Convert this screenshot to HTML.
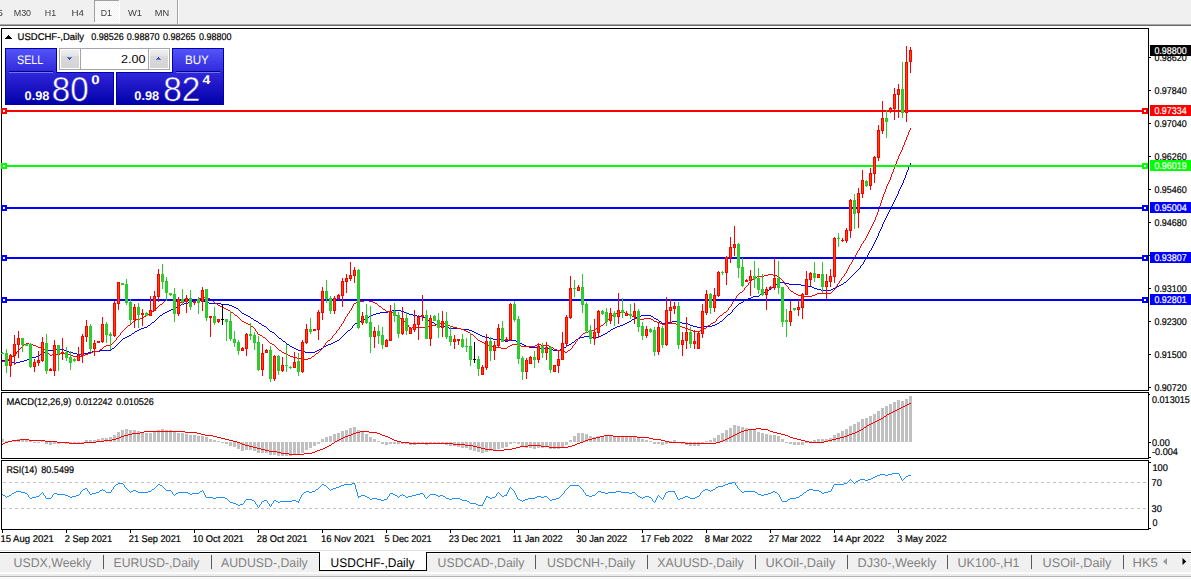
<!DOCTYPE html>
<html><head><meta charset="utf-8"><title>USDCHF-,Daily</title>
<style>html,body{margin:0;padding:0;background:#fff;overflow:hidden}svg{display:block}text{font-family:"Liberation Sans", sans-serif;white-space:pre}</style></head>
<body>
<svg width="1191" height="579" viewBox="0 0 1191 579" shape-rendering="crispEdges" text-rendering="geometricPrecision">
<rect x="0" y="0" width="1191" height="579" fill="#fff"/>
<rect x="0" y="0" width="1191" height="24" fill="#f0f0f0"/>
<rect x="0" y="24" width="1191" height="1" fill="#a8a8a8"/>
<rect x="0" y="25" width="1191" height="1" fill="#696969"/>
<defs><pattern id="chk" width="2" height="2" patternUnits="userSpaceOnUse"><rect width="2" height="2" fill="#fff"/><rect width="1" height="1" fill="#f0f0f0"/><rect x="1" y="1" width="1" height="1" fill="#f0f0f0"/></pattern><linearGradient id="gb" gradientUnits="userSpaceOnUse" x1="0" y1="48" x2="0" y2="105"><stop offset="0" stop-color="#5656fa"/><stop offset="0.42" stop-color="#3029dc"/><stop offset="0.63" stop-color="#2018c8"/><stop offset="1" stop-color="#0000a8"/></linearGradient><linearGradient id="gbu" gradientUnits="userSpaceOnUse" x1="0" y1="48" x2="0" y2="105"><stop offset="0" stop-color="#5656fa"/><stop offset="0.42" stop-color="#3029dc"/><stop offset="0.63" stop-color="#2018c8"/><stop offset="1" stop-color="#0000a8"/></linearGradient><linearGradient id="gs1" x1="0" y1="0" x2="0" y2="1"><stop offset="0" stop-color="#efefef"/><stop offset="1" stop-color="#e4e4e4"/></linearGradient><linearGradient id="gs2" x1="0" y1="0" x2="0" y2="1"><stop offset="0" stop-color="#dadada"/><stop offset="1" stop-color="#d4d4d4"/></linearGradient><linearGradient id="gs" x1="0" y1="0" x2="0" y2="1"><stop offset="0" stop-color="#ececec"/><stop offset="0.5" stop-color="#dcdcdc"/><stop offset="0.5" stop-color="#d2d2d2"/><stop offset="1" stop-color="#cfcfcf"/></linearGradient></defs>
<rect x="94" y="0" width="25" height="22" fill="url(#chk)"/>
<rect x="94" y="0" width="25" height="1" fill="#a0a0a0"/>
<rect x="94" y="0" width="1" height="22" fill="#a0a0a0"/>
<rect x="119" y="0" width="1" height="23" fill="#fff"/>
<rect x="94" y="22" width="26" height="1" fill="#fff"/>
<rect x="177" y="0" width="1" height="24" fill="#a0a0a0"/>
<rect x="178" y="0" width="1" height="24" fill="#fff"/>
<rect x="1" y="28" width="1148" height="1" fill="#000"/>
<rect x="1" y="390" width="1148" height="1" fill="#000"/>
<rect x="1" y="28" width="1" height="363" fill="#000"/>
<rect x="1148" y="28" width="1" height="363" fill="#000"/>
<rect x="1" y="392" width="1148" height="1" fill="#000"/>
<rect x="1" y="458" width="1148" height="1" fill="#000"/>
<rect x="1" y="392" width="1" height="67" fill="#000"/>
<rect x="1148" y="392" width="1" height="67" fill="#000"/>
<rect x="1" y="460" width="1148" height="1" fill="#000"/>
<rect x="1" y="529" width="1148" height="1" fill="#000"/>
<rect x="1" y="460" width="1" height="70" fill="#000"/>
<rect x="1148" y="460" width="1" height="70" fill="#000"/>
<rect x="1149" y="57" width="2" height="1" fill="#000"/>
<text x="1154.4" y="61" font-size="9.8" fill="#000" textLength="32.4" lengthAdjust="spacingAndGlyphs" stroke="#000" stroke-width="0.2">0.98620</text>
<rect x="1149" y="90" width="2" height="1" fill="#000"/>
<text x="1154.4" y="94" font-size="9.8" fill="#000" textLength="32.4" lengthAdjust="spacingAndGlyphs" stroke="#000" stroke-width="0.2">0.97840</text>
<rect x="1149" y="123" width="2" height="1" fill="#000"/>
<text x="1154.4" y="127" font-size="9.8" fill="#000" textLength="32.4" lengthAdjust="spacingAndGlyphs" stroke="#000" stroke-width="0.2">0.97040</text>
<rect x="1149" y="156" width="2" height="1" fill="#000"/>
<text x="1154.4" y="160" font-size="9.8" fill="#000" textLength="32.4" lengthAdjust="spacingAndGlyphs" stroke="#000" stroke-width="0.2">0.96260</text>
<rect x="1149" y="189" width="2" height="1" fill="#000"/>
<text x="1154.4" y="193" font-size="9.8" fill="#000" textLength="32.4" lengthAdjust="spacingAndGlyphs" stroke="#000" stroke-width="0.2">0.95460</text>
<rect x="1149" y="222" width="2" height="1" fill="#000"/>
<text x="1154.4" y="226" font-size="9.8" fill="#000" textLength="32.4" lengthAdjust="spacingAndGlyphs" stroke="#000" stroke-width="0.2">0.94680</text>
<rect x="1149" y="255" width="2" height="1" fill="#000"/>
<text x="1154.4" y="259" font-size="9.8" fill="#000" textLength="32.4" lengthAdjust="spacingAndGlyphs" stroke="#000" stroke-width="0.2">0.93900</text>
<rect x="1149" y="288" width="2" height="1" fill="#000"/>
<text x="1154.4" y="292" font-size="9.8" fill="#000" textLength="32.4" lengthAdjust="spacingAndGlyphs" stroke="#000" stroke-width="0.2">0.93100</text>
<rect x="1149" y="321" width="2" height="1" fill="#000"/>
<text x="1154.4" y="325" font-size="9.8" fill="#000" textLength="32.4" lengthAdjust="spacingAndGlyphs" stroke="#000" stroke-width="0.2">0.92300</text>
<rect x="1149" y="354" width="2" height="1" fill="#000"/>
<text x="1154.4" y="358" font-size="9.8" fill="#000" textLength="32.4" lengthAdjust="spacingAndGlyphs" stroke="#000" stroke-width="0.2">0.91500</text>
<rect x="1149" y="387" width="2" height="1" fill="#000"/>
<text x="1154.4" y="391" font-size="9.8" fill="#000" textLength="32.4" lengthAdjust="spacingAndGlyphs" stroke="#000" stroke-width="0.2">0.90720</text>
<rect x="1150" y="45" width="41" height="11" fill="#000"/>
<text x="1154.4" y="54" font-size="9.8" fill="#fff" textLength="32.2" lengthAdjust="spacingAndGlyphs" stroke="#fff" stroke-width="0.2">0.98800</text>
<text x="6.4" y="405" font-size="9.8" fill="#000" textLength="65" lengthAdjust="spacingAndGlyphs" stroke="#000" stroke-width="0.2">MACD(12,26,9)</text>
<text x="75.5" y="405" font-size="9.8" fill="#000" textLength="36.9" lengthAdjust="spacingAndGlyphs" stroke="#000" stroke-width="0.2">0.012242</text>
<text x="116.2" y="405" font-size="9.8" fill="#000" textLength="37.6" lengthAdjust="spacingAndGlyphs" stroke="#000" stroke-width="0.2">0.010526</text>
<rect x="1149" y="394" width="1" height="1" fill="#000"/>
<text x="1152" y="403" font-size="9.8" fill="#000" textLength="37.8" lengthAdjust="spacingAndGlyphs" stroke="#000" stroke-width="0.2">0.013015</text>
<rect x="1149" y="442" width="2" height="1" fill="#000"/>
<text x="1152" y="446" font-size="9.8" fill="#000" textLength="17.8" lengthAdjust="spacingAndGlyphs" stroke="#000" stroke-width="0.2">0.00</text>
<rect x="1149" y="457" width="2" height="1" fill="#000"/>
<text x="1152" y="455" font-size="9.8" fill="#000" textLength="25.9" lengthAdjust="spacingAndGlyphs" stroke="#000" stroke-width="0.2">-0.004</text>
<text x="6.4" y="473" font-size="9.8" fill="#000" textLength="30.8" lengthAdjust="spacingAndGlyphs" stroke="#000" stroke-width="0.2">RSI(14)</text>
<text x="41.3" y="473" font-size="9.8" fill="#000" textLength="32.7" lengthAdjust="spacingAndGlyphs" stroke="#000" stroke-width="0.2">80.5499</text>
<path d="M3 482.5H1148" stroke="#c0c0c0" stroke-width="1" stroke-dasharray="3 3" fill="none"/>
<path d="M3 508.5H1148" stroke="#c0c0c0" stroke-width="1" stroke-dasharray="3 3" fill="none"/>
<rect x="1149" y="462" width="2" height="1" fill="#000"/>
<rect x="1149" y="528" width="2" height="1" fill="#000"/>
<text x="1152.4" y="471" font-size="9.8" fill="#000" textLength="15.5" lengthAdjust="spacingAndGlyphs" stroke="#000" stroke-width="0.2">100</text>
<text x="1151.6" y="486" font-size="9.8" fill="#000" textLength="10.3" lengthAdjust="spacingAndGlyphs" stroke="#000" stroke-width="0.2">70</text>
<text x="1151.6" y="512" font-size="9.8" fill="#000" textLength="10.3" lengthAdjust="spacingAndGlyphs" stroke="#000" stroke-width="0.2">30</text>
<text x="1152.4" y="526" font-size="9.8" fill="#000" textLength="5" lengthAdjust="spacingAndGlyphs" stroke="#000" stroke-width="0.2">0</text>
<rect x="2" y="530" width="1" height="3" fill="#000"/>
<text x="0.4" y="542" font-size="9.8" fill="#000" textLength="53.45" lengthAdjust="spacingAndGlyphs" stroke="#000" stroke-width="0.2">15 Aug 2021</text>
<rect x="66" y="530" width="1" height="3" fill="#000"/>
<text x="64.75" y="542" font-size="9.8" fill="#000" textLength="47.4" lengthAdjust="spacingAndGlyphs" stroke="#000" stroke-width="0.2">2 Sep 2021</text>
<rect x="130" y="530" width="1" height="3" fill="#000"/>
<text x="128.85" y="542" font-size="9.8" fill="#000" textLength="52.1" lengthAdjust="spacingAndGlyphs" stroke="#000" stroke-width="0.2">21 Sep 2021</text>
<rect x="194" y="530" width="1" height="3" fill="#000"/>
<text x="192.8" y="542" font-size="9.8" fill="#000" textLength="51.05" lengthAdjust="spacingAndGlyphs" stroke="#000" stroke-width="0.2">10 Oct 2021</text>
<rect x="258" y="530" width="1" height="3" fill="#000"/>
<text x="256.75" y="542" font-size="9.8" fill="#000" textLength="50.7" lengthAdjust="spacingAndGlyphs" stroke="#000" stroke-width="0.2">28 Oct 2021</text>
<rect x="322" y="530" width="1" height="3" fill="#000"/>
<text x="320.9" y="542" font-size="9.8" fill="#000" textLength="53.95" lengthAdjust="spacingAndGlyphs" stroke="#000" stroke-width="0.2">16 Nov 2021</text>
<rect x="386" y="530" width="1" height="3" fill="#000"/>
<text x="384.55" y="542" font-size="9.8" fill="#000" textLength="47.1" lengthAdjust="spacingAndGlyphs" stroke="#000" stroke-width="0.2">5 Dec 2021</text>
<rect x="450" y="530" width="1" height="3" fill="#000"/>
<text x="448.75" y="542" font-size="9.8" fill="#000" textLength="52.3" lengthAdjust="spacingAndGlyphs" stroke="#000" stroke-width="0.2">23 Dec 2021</text>
<rect x="514" y="530" width="1" height="3" fill="#000"/>
<text x="512.6" y="542" font-size="9.8" fill="#000" textLength="50.05" lengthAdjust="spacingAndGlyphs" stroke="#000" stroke-width="0.2">11 Jan 2022</text>
<rect x="578" y="530" width="1" height="3" fill="#000"/>
<text x="576.25" y="542" font-size="9.8" fill="#000" textLength="51.0" lengthAdjust="spacingAndGlyphs" stroke="#000" stroke-width="0.2">30 Jan 2022</text>
<rect x="642" y="530" width="1" height="3" fill="#000"/>
<text x="640.8" y="542" font-size="9.8" fill="#000" textLength="52.25" lengthAdjust="spacingAndGlyphs" stroke="#000" stroke-width="0.2">17 Feb 2022</text>
<rect x="706" y="530" width="1" height="3" fill="#000"/>
<text x="704.75" y="542" font-size="9.8" fill="#000" textLength="47.4" lengthAdjust="spacingAndGlyphs" stroke="#000" stroke-width="0.2">8 Mar 2022</text>
<rect x="770" y="530" width="1" height="3" fill="#000"/>
<text x="768.75" y="542" font-size="9.8" fill="#000" textLength="52.2" lengthAdjust="spacingAndGlyphs" stroke="#000" stroke-width="0.2">27 Mar 2022</text>
<rect x="834" y="530" width="1" height="3" fill="#000"/>
<text x="832.7" y="542" font-size="9.8" fill="#000" textLength="51.65" lengthAdjust="spacingAndGlyphs" stroke="#000" stroke-width="0.2">14 Apr 2022</text>
<rect x="898" y="530" width="1" height="3" fill="#000"/>
<text x="896.95" y="542" font-size="9.8" fill="#000" textLength="49.9" lengthAdjust="spacingAndGlyphs" stroke="#000" stroke-width="0.2">3 May 2022</text>
<path d="M910 163h1v2h-1zM909 165h1v2h-1zM908 167h1v3h-1zM907 170h1v2h-1zM906 172h1v3h-1zM905 175h1v3h-1zM904 178h1v2h-1zM903 180h1v3h-1zM902 183h1v2h-1zM901 185h1v2h-1zM900 187h1v2h-1zM899 189h1v2h-1zM898 191h1v3h-1zM897 194h1v2h-1zM896 196h1v2h-1zM895 198h1v2h-1zM894 200h1v2h-1zM893 202h1v2h-1zM892 204h1v2h-1zM891 206h1v2h-1zM890 208h1v2h-1zM889 210h1v2h-1zM888 212h1v2h-1zM887 214h1v2h-1zM886 216h1v2h-1zM885 218h1v2h-1zM884 220h1v2h-1zM883 222h1v2h-1zM882 224h1v3h-1zM881 227h1v2h-1zM880 229h1v2h-1zM879 231h1v2h-1zM878 233h1v3h-1zM877 236h1v2h-1zM876 238h1v2h-1zM875 240h1v2h-1zM874 242h1v2h-1zM873 244h1v2h-1zM872 246h1v2h-1zM871 248h1v2h-1zM870 250h1v1h-1zM869 251h1v2h-1zM868 253h1v2h-1zM867 255h1v2h-1zM866 257h1v1h-1zM865 258h1v2h-1zM864 260h1v2h-1zM863 262h1v2h-1zM862 264h1v1h-1zM861 265h1v1h-1zM860 266h1v2h-1zM859 268h1v1h-1zM858 269h1v1h-1zM857 270h1v1h-1zM856 271h1v1h-1zM855 272h1v1h-1zM854 273h1v1h-1zM853 274h1v1h-1zM852 275h1v1h-1zM851 276h1v1h-1zM850 277h1v1h-1zM849 278h1v1h-1zM848 279h1v1h-1zM847 280h1v1h-1zM846 281h1v1h-1zM780 282h5v1h-5zM844 282h2v1h-2zM778 283h2v1h-2zM785 283h4v1h-4zM843 283h1v1h-1zM776 284h2v1h-2zM789 284h12v1h-12zM841 284h2v1h-2zM775 285h1v1h-1zM801 285h4v1h-4zM839 285h2v1h-2zM774 286h1v1h-1zM805 286h7v1h-7zM837 286h2v1h-2zM772 287h2v1h-2zM812 287h2v1h-2zM835 287h2v1h-2zM771 288h1v1h-1zM814 288h3v1h-3zM833 288h2v1h-2zM769 289h2v1h-2zM817 289h4v1h-4zM831 289h2v1h-2zM767 290h2v1h-2zM821 290h10v1h-10zM765 291h2v1h-2zM763 292h2v1h-2zM762 293h1v1h-1zM760 294h2v1h-2zM759 295h1v1h-1zM753 296h6v1h-6zM751 297h2v1h-2zM748 298h3v1h-3zM746 299h2v1h-2zM193 300h8v1h-8zM744 300h2v1h-2zM191 301h2v1h-2zM201 301h4v1h-4zM743 301h1v1h-1zM188 302h3v1h-3zM205 302h4v1h-4zM741 302h2v1h-2zM184 303h4v1h-4zM209 303h12v1h-12zM739 303h2v1h-2zM181 304h3v1h-3zM221 304h8v1h-8zM738 304h1v1h-1zM179 305h2v1h-2zM229 305h3v1h-3zM737 305h1v1h-1zM177 306h2v1h-2zM232 306h2v1h-2zM736 306h1v1h-1zM175 307h2v1h-2zM234 307h2v1h-2zM735 307h1v1h-1zM173 308h2v1h-2zM236 308h2v1h-2zM734 308h1v1h-1zM171 309h2v1h-2zM238 309h1v1h-1zM733 309h1v1h-1zM169 310h2v1h-2zM239 310h1v1h-1zM392 310h9v1h-9zM732 310h1v2h-1zM167 311h2v1h-2zM240 311h1v1h-1zM388 311h4v1h-4zM401 311h3v1h-3zM165 312h2v1h-2zM241 312h1v1h-1zM380 312h8v1h-8zM404 312h2v1h-2zM731 312h1v1h-1zM163 313h2v1h-2zM242 313h2v1h-2zM376 313h4v1h-4zM406 313h3v1h-3zM730 313h1v1h-1zM162 314h1v1h-1zM244 314h2v1h-2zM373 314h3v1h-3zM409 314h4v1h-4zM728 314h2v1h-2zM160 315h2v1h-2zM246 315h2v1h-2zM371 315h2v1h-2zM413 315h4v1h-4zM641 315h10v1h-10zM727 315h1v1h-1zM159 316h1v1h-1zM248 316h2v1h-2zM369 316h2v1h-2zM417 316h6v1h-6zM639 316h2v1h-2zM651 316h2v1h-2zM726 316h1v1h-1zM158 317h1v1h-1zM250 317h1v1h-1zM367 317h2v1h-2zM423 317h2v1h-2zM636 317h3v1h-3zM653 317h1v1h-1zM725 317h1v1h-1zM157 318h1v1h-1zM251 318h2v1h-2zM365 318h2v1h-2zM425 318h1v1h-1zM634 318h2v1h-2zM654 318h2v1h-2zM724 318h1v1h-1zM156 319h1v1h-1zM253 319h1v1h-1zM363 319h2v1h-2zM426 319h2v1h-2zM632 319h2v1h-2zM656 319h2v1h-2zM723 319h1v1h-1zM155 320h1v1h-1zM254 320h2v1h-2zM361 320h2v1h-2zM428 320h2v1h-2zM631 320h1v1h-1zM658 320h1v1h-1zM722 320h1v1h-1zM154 321h1v1h-1zM256 321h2v1h-2zM359 321h2v1h-2zM430 321h2v1h-2zM629 321h2v1h-2zM659 321h2v1h-2zM672 321h8v1h-8zM720 321h2v1h-2zM152 322h2v1h-2zM258 322h1v1h-1zM357 322h2v1h-2zM432 322h2v1h-2zM627 322h2v1h-2zM661 322h1v1h-1zM668 322h4v1h-4zM680 322h2v1h-2zM719 322h1v1h-1zM151 323h1v1h-1zM259 323h2v1h-2zM355 323h2v1h-2zM434 323h1v1h-1zM625 323h2v1h-2zM662 323h6v1h-6zM682 323h6v1h-6zM717 323h2v1h-2zM150 324h1v1h-1zM261 324h1v1h-1zM354 324h1v1h-1zM435 324h2v1h-2zM623 324h2v1h-2zM688 324h2v1h-2zM715 324h2v1h-2zM148 325h2v1h-2zM262 325h2v1h-2zM353 325h1v1h-1zM437 325h1v1h-1zM620 325h3v1h-3zM690 325h3v1h-3zM712 325h3v1h-3zM147 326h1v1h-1zM264 326h2v1h-2zM352 326h1v2h-1zM438 326h7v1h-7zM617 326h3v1h-3zM693 326h4v1h-4zM704 326h8v1h-8zM144 327h3v1h-3zM266 327h1v1h-1zM445 327h4v1h-4zM615 327h2v1h-2zM697 327h7v1h-7zM141 328h3v1h-3zM267 328h1v1h-1zM351 328h1v1h-1zM449 328h12v1h-12zM613 328h2v1h-2zM139 329h2v1h-2zM268 329h1v1h-1zM350 329h1v1h-1zM461 329h8v1h-8zM611 329h2v1h-2zM137 330h2v1h-2zM269 330h1v1h-1zM348 330h2v1h-2zM469 330h3v1h-3zM610 330h1v1h-1zM135 331h2v1h-2zM270 331h2v1h-2zM347 331h1v1h-1zM472 331h2v1h-2zM608 331h2v1h-2zM134 332h1v1h-1zM272 332h2v1h-2zM346 332h1v1h-1zM474 332h2v1h-2zM607 332h1v1h-1zM132 333h2v1h-2zM274 333h1v1h-1zM345 333h1v1h-1zM476 333h2v1h-2zM605 333h2v1h-2zM131 334h1v1h-1zM275 334h1v1h-1zM344 334h1v1h-1zM478 334h2v1h-2zM603 334h2v1h-2zM129 335h2v1h-2zM276 335h1v1h-1zM343 335h1v1h-1zM480 335h2v1h-2zM601 335h2v1h-2zM127 336h2v1h-2zM277 336h1v1h-1zM342 336h1v1h-1zM482 336h3v1h-3zM584 336h8v1h-8zM599 336h2v1h-2zM125 337h2v1h-2zM278 337h1v1h-1zM341 337h1v1h-1zM485 337h4v1h-4zM580 337h4v1h-4zM592 337h2v1h-2zM596 337h3v1h-3zM123 338h2v1h-2zM279 338h2v1h-2zM340 338h1v1h-1zM489 338h4v1h-4zM578 338h2v1h-2zM594 338h2v1h-2zM122 339h1v1h-1zM281 339h1v1h-1zM339 339h1v1h-1zM493 339h8v1h-8zM576 339h2v1h-2zM121 340h1v1h-1zM282 340h1v1h-1zM337 340h2v1h-2zM501 340h4v1h-4zM508 340h8v1h-8zM575 340h1v1h-1zM120 341h1v1h-1zM283 341h2v1h-2zM335 341h2v1h-2zM505 341h3v1h-3zM516 341h2v1h-2zM574 341h1v1h-1zM119 342h1v1h-1zM285 342h1v1h-1zM333 342h2v1h-2zM518 342h2v1h-2zM572 342h2v1h-2zM118 343h1v1h-1zM286 343h1v1h-1zM331 343h2v1h-2zM520 343h2v1h-2zM571 343h1v1h-1zM117 344h1v1h-1zM287 344h2v1h-2zM328 344h3v1h-3zM522 344h2v1h-2zM569 344h2v1h-2zM116 345h1v1h-1zM289 345h1v1h-1zM326 345h2v1h-2zM524 345h2v1h-2zM567 345h2v1h-2zM115 346h1v1h-1zM290 346h2v1h-2zM324 346h2v1h-2zM526 346h3v1h-3zM566 346h1v1h-1zM114 347h1v1h-1zM292 347h2v1h-2zM323 347h1v1h-1zM529 347h8v1h-8zM564 347h2v1h-2zM112 348h2v1h-2zM294 348h2v1h-2zM321 348h2v1h-2zM537 348h12v1h-12zM563 348h1v1h-1zM56 349h8v1h-8zM111 349h1v1h-1zM296 349h2v1h-2zM319 349h2v1h-2zM549 349h4v1h-4zM560 349h3v1h-3zM48 350h8v1h-8zM64 350h2v1h-2zM100 350h11v1h-11zM298 350h3v1h-3zM317 350h2v1h-2zM553 350h7v1h-7zM45 351h3v1h-3zM66 351h3v1h-3zM92 351h8v1h-8zM301 351h4v1h-4zM315 351h2v1h-2zM43 352h2v1h-2zM69 352h4v1h-4zM88 352h4v1h-4zM305 352h10v1h-10zM42 353h1v1h-1zM73 353h4v1h-4zM84 353h4v1h-4zM40 354h2v1h-2zM77 354h7v1h-7zM39 355h1v1h-1zM36 356h3v1h-3zM32 357h4v1h-4zM29 358h3v1h-3zM27 359h2v1h-2zM2 360h7v1h-7zM24 360h3v1h-3zM9 361h3v1h-3zM20 361h4v1h-4zM12 362h2v1h-2zM16 362h4v1h-4zM14 363h2v1h-2z" fill="#0000ff"/>
<path d="M910 128h1v2h-1zM909 130h1v2h-1zM908 132h1v3h-1zM907 135h1v2h-1zM906 137h1v3h-1zM905 140h1v2h-1zM904 142h1v3h-1zM903 145h1v2h-1zM902 147h1v3h-1zM901 150h1v2h-1zM900 152h1v2h-1zM899 154h1v2h-1zM898 156h1v3h-1zM897 159h1v2h-1zM896 161h1v3h-1zM895 164h1v2h-1zM894 166h1v3h-1zM893 169h1v3h-1zM892 172h1v2h-1zM891 174h1v3h-1zM890 177h1v3h-1zM889 180h1v2h-1zM888 182h1v2h-1zM887 184h1v2h-1zM886 186h1v3h-1zM885 189h1v3h-1zM884 192h1v2h-1zM883 194h1v3h-1zM882 197h1v3h-1zM881 200h1v3h-1zM880 203h1v3h-1zM879 206h1v3h-1zM878 209h1v3h-1zM877 212h1v3h-1zM876 215h1v2h-1zM875 217h1v3h-1zM874 220h1v2h-1zM873 222h1v2h-1zM872 224h1v2h-1zM871 226h1v2h-1zM870 228h1v2h-1zM869 230h1v2h-1zM868 232h1v2h-1zM867 234h1v2h-1zM866 236h1v2h-1zM865 238h1v2h-1zM864 240h1v1h-1zM863 241h1v2h-1zM862 243h1v1h-1zM861 244h1v2h-1zM860 246h1v2h-1zM859 248h1v2h-1zM858 250h1v1h-1zM857 251h1v2h-1zM856 253h1v2h-1zM855 255h1v2h-1zM854 257h1v1h-1zM853 258h1v2h-1zM852 260h1v2h-1zM851 262h1v2h-1zM850 264h1v1h-1zM849 265h1v2h-1zM848 267h1v2h-1zM847 269h1v2h-1zM846 271h1v2h-1zM845 273h1v1h-1zM768 274h5v1h-5zM844 274h1v2h-1zM764 275h4v1h-4zM773 275h4v1h-4zM757 276h7v1h-7zM777 276h2v1h-2zM843 276h1v1h-1zM755 277h2v1h-2zM779 277h1v1h-1zM842 277h1v1h-1zM754 278h1v1h-1zM780 278h1v1h-1zM841 278h1v2h-1zM752 279h2v1h-2zM781 279h1v1h-1zM751 280h1v1h-1zM782 280h1v1h-1zM840 280h1v1h-1zM750 281h1v1h-1zM783 281h1v1h-1zM839 281h1v2h-1zM749 282h1v1h-1zM784 282h1v2h-1zM748 283h1v2h-1zM838 283h1v1h-1zM785 284h1v1h-1zM837 284h1v2h-1zM747 285h1v1h-1zM786 285h1v1h-1zM746 286h1v1h-1zM787 286h1v1h-1zM836 286h1v1h-1zM745 287h1v1h-1zM788 287h1v2h-1zM835 287h1v2h-1zM744 288h1v2h-1zM789 289h1v1h-1zM834 289h1v1h-1zM743 290h1v1h-1zM790 290h1v1h-1zM833 290h1v1h-1zM742 291h1v1h-1zM791 291h2v1h-2zM832 291h1v1h-1zM740 292h2v1h-2zM793 292h1v1h-1zM831 292h1v1h-1zM739 293h1v1h-1zM794 293h2v1h-2zM817 293h14v1h-14zM738 294h1v1h-1zM796 294h2v1h-2zM815 294h2v1h-2zM737 295h1v1h-1zM798 295h3v1h-3zM812 295h3v1h-3zM736 296h1v2h-1zM801 296h11v1h-11zM201 297h7v1h-7zM199 298h2v1h-2zM208 298h2v1h-2zM735 298h1v1h-1zM166 299h6v1h-6zM196 299h3v1h-3zM210 299h1v1h-1zM734 299h1v1h-1zM165 300h1v1h-1zM172 300h2v1h-2zM188 300h8v1h-8zM211 300h2v1h-2zM364 300h5v1h-5zM733 300h1v2h-1zM164 301h1v1h-1zM174 301h3v1h-3zM184 301h4v1h-4zM213 301h1v1h-1zM360 301h4v1h-4zM369 301h4v1h-4zM163 302h1v1h-1zM177 302h7v1h-7zM214 302h1v1h-1zM356 302h4v1h-4zM373 302h2v1h-2zM732 302h1v2h-1zM162 303h1v1h-1zM215 303h2v1h-2zM354 303h2v1h-2zM375 303h2v1h-2zM160 304h2v1h-2zM217 304h1v1h-1zM353 304h1v2h-1zM377 304h1v1h-1zM731 304h1v2h-1zM159 305h1v1h-1zM218 305h2v1h-2zM378 305h1v1h-1zM158 306h1v1h-1zM220 306h2v1h-2zM352 306h1v2h-1zM379 306h2v1h-2zM730 306h1v1h-1zM157 307h1v1h-1zM222 307h2v1h-2zM381 307h1v1h-1zM729 307h1v1h-1zM156 308h1v1h-1zM224 308h2v1h-2zM351 308h1v2h-1zM382 308h1v1h-1zM728 308h1v2h-1zM155 309h1v1h-1zM226 309h2v1h-2zM383 309h2v1h-2zM154 310h1v1h-1zM228 310h2v1h-2zM350 310h1v1h-1zM385 310h1v1h-1zM727 310h1v1h-1zM152 311h2v1h-2zM230 311h1v1h-1zM349 311h1v2h-1zM386 311h3v1h-3zM726 311h1v1h-1zM151 312h1v1h-1zM231 312h2v1h-2zM389 312h4v1h-4zM617 312h8v1h-8zM724 312h2v1h-2zM149 313h2v1h-2zM233 313h1v1h-1zM348 313h1v1h-1zM393 313h2v1h-2zM615 313h2v1h-2zM625 313h3v1h-3zM723 313h1v1h-1zM147 314h2v1h-2zM234 314h1v1h-1zM347 314h1v2h-1zM395 314h1v1h-1zM614 314h1v1h-1zM628 314h2v1h-2zM722 314h1v1h-1zM146 315h1v1h-1zM235 315h2v1h-2zM396 315h1v1h-1zM612 315h2v1h-2zM630 315h2v1h-2zM720 315h2v1h-2zM144 316h2v1h-2zM237 316h1v1h-1zM346 316h1v1h-1zM397 316h1v1h-1zM611 316h1v1h-1zM632 316h2v1h-2zM719 316h1v1h-1zM143 317h1v1h-1zM238 317h1v1h-1zM345 317h1v2h-1zM398 317h1v1h-1zM610 317h1v1h-1zM634 317h2v1h-2zM718 317h1v1h-1zM140 318h3v1h-3zM239 318h1v1h-1zM399 318h2v1h-2zM609 318h1v1h-1zM636 318h2v1h-2zM644 318h7v1h-7zM717 318h1v1h-1zM136 319h4v1h-4zM240 319h1v1h-1zM344 319h1v2h-1zM401 319h1v1h-1zM608 319h1v1h-1zM638 319h6v1h-6zM651 319h2v1h-2zM716 319h1v2h-1zM134 320h2v1h-2zM241 320h1v1h-1zM402 320h1v1h-1zM607 320h1v1h-1zM653 320h1v1h-1zM133 321h1v1h-1zM242 321h2v1h-2zM343 321h1v2h-1zM403 321h2v1h-2zM606 321h1v1h-1zM654 321h3v1h-3zM715 321h1v1h-1zM132 322h1v1h-1zM244 322h2v1h-2zM405 322h1v1h-1zM605 322h1v1h-1zM657 322h3v1h-3zM713 322h2v1h-2zM131 323h1v1h-1zM246 323h2v1h-2zM342 323h1v1h-1zM406 323h1v1h-1zM440 323h5v1h-5zM604 323h1v1h-1zM660 323h2v1h-2zM668 323h8v1h-8zM711 323h2v1h-2zM130 324h1v1h-1zM248 324h2v1h-2zM341 324h1v2h-1zM407 324h1v1h-1zM436 324h4v1h-4zM445 324h3v1h-3zM603 324h1v1h-1zM662 324h6v1h-6zM676 324h2v1h-2zM710 324h1v1h-1zM128 325h2v1h-2zM250 325h1v1h-1zM408 325h1v2h-1zM432 325h4v1h-4zM448 325h2v1h-2zM601 325h2v1h-2zM678 325h2v1h-2zM708 325h2v1h-2zM127 326h1v1h-1zM251 326h2v1h-2zM340 326h1v1h-1zM428 326h4v1h-4zM450 326h3v1h-3zM599 326h2v1h-2zM680 326h2v1h-2zM707 326h1v1h-1zM126 327h1v1h-1zM253 327h1v1h-1zM339 327h1v2h-1zM409 327h1v1h-1zM412 327h16v1h-16zM453 327h4v1h-4zM598 327h1v1h-1zM682 327h3v1h-3zM706 327h1v1h-1zM125 328h1v1h-1zM254 328h1v1h-1zM410 328h2v1h-2zM457 328h4v1h-4zM596 328h2v1h-2zM685 328h3v1h-3zM704 328h2v1h-2zM124 329h1v1h-1zM255 329h1v2h-1zM338 329h1v1h-1zM461 329h3v1h-3zM595 329h1v1h-1zM688 329h2v1h-2zM703 329h1v1h-1zM123 330h1v1h-1zM337 330h1v1h-1zM464 330h2v1h-2zM592 330h3v1h-3zM690 330h3v1h-3zM700 330h3v1h-3zM122 331h1v1h-1zM256 331h1v1h-1zM336 331h1v2h-1zM466 331h2v1h-2zM588 331h4v1h-4zM693 331h7v1h-7zM121 332h1v1h-1zM257 332h1v2h-1zM468 332h2v1h-2zM585 332h3v1h-3zM120 333h1v2h-1zM335 333h1v1h-1zM470 333h1v1h-1zM583 333h2v1h-2zM258 334h2v1h-2zM334 334h1v1h-1zM471 334h2v1h-2zM582 334h1v1h-1zM119 335h1v1h-1zM260 335h2v1h-2zM333 335h1v1h-1zM473 335h1v1h-1zM581 335h1v1h-1zM118 336h1v1h-1zM262 336h1v1h-1zM332 336h1v2h-1zM474 336h1v1h-1zM580 336h1v1h-1zM117 337h1v1h-1zM263 337h2v1h-2zM475 337h1v1h-1zM579 337h1v1h-1zM116 338h1v2h-1zM265 338h1v1h-1zM331 338h1v1h-1zM476 338h1v1h-1zM578 338h1v1h-1zM266 339h1v1h-1zM330 339h1v1h-1zM477 339h1v1h-1zM577 339h1v2h-1zM115 340h1v1h-1zM267 340h1v1h-1zM328 340h2v1h-2zM478 340h2v1h-2zM114 341h1v1h-1zM268 341h1v1h-1zM327 341h1v1h-1zM480 341h2v1h-2zM576 341h1v1h-1zM113 342h1v1h-1zM269 342h1v1h-1zM326 342h1v1h-1zM482 342h2v1h-2zM575 342h1v2h-1zM26 343h3v1h-3zM112 343h1v1h-1zM270 343h2v1h-2zM325 343h1v2h-1zM484 343h2v1h-2zM24 344h2v1h-2zM29 344h4v1h-4zM111 344h1v1h-1zM272 344h2v1h-2zM486 344h2v1h-2zM512 344h5v1h-5zM537 344h4v1h-4zM574 344h1v1h-1zM23 345h1v1h-1zM33 345h3v1h-3zM106 345h5v1h-5zM274 345h1v1h-1zM324 345h1v1h-1zM488 345h2v1h-2zM510 345h2v1h-2zM517 345h4v1h-4zM535 345h2v1h-2zM541 345h8v1h-8zM573 345h1v1h-1zM22 346h1v1h-1zM36 346h2v1h-2zM104 346h2v1h-2zM275 346h1v1h-1zM323 346h1v2h-1zM490 346h3v1h-3zM508 346h2v1h-2zM521 346h14v1h-14zM549 346h2v1h-2zM572 346h1v2h-1zM21 347h1v1h-1zM38 347h3v1h-3zM103 347h1v1h-1zM276 347h1v1h-1zM493 347h8v1h-8zM507 347h1v1h-1zM551 347h2v1h-2zM20 348h1v1h-1zM41 348h2v1h-2zM102 348h1v1h-1zM277 348h1v1h-1zM322 348h1v1h-1zM501 348h6v1h-6zM553 348h1v1h-1zM571 348h1v1h-1zM19 349h1v1h-1zM43 349h2v1h-2zM100 349h2v1h-2zM278 349h1v1h-1zM321 349h1v1h-1zM554 349h3v1h-3zM570 349h1v1h-1zM18 350h1v1h-1zM45 350h1v1h-1zM99 350h1v1h-1zM279 350h2v1h-2zM320 350h1v1h-1zM557 350h4v1h-4zM568 350h2v1h-2zM17 351h1v1h-1zM46 351h1v1h-1zM93 351h6v1h-6zM281 351h1v1h-1zM319 351h1v1h-1zM561 351h4v1h-4zM567 351h1v1h-1zM16 352h1v2h-1zM47 352h1v1h-1zM91 352h2v1h-2zM282 352h2v1h-2zM318 352h1v1h-1zM565 352h2v1h-2zM48 353h1v1h-1zM60 353h8v1h-8zM88 353h3v1h-3zM284 353h2v1h-2zM316 353h2v1h-2zM15 354h1v1h-1zM49 354h1v1h-1zM52 354h8v1h-8zM68 354h2v1h-2zM85 354h3v1h-3zM286 354h2v1h-2zM315 354h1v1h-1zM14 355h1v1h-1zM50 355h2v1h-2zM70 355h3v1h-3zM83 355h2v1h-2zM288 355h2v1h-2zM314 355h1v1h-1zM12 356h2v1h-2zM73 356h4v1h-4zM80 356h3v1h-3zM290 356h3v1h-3zM312 356h2v1h-2zM11 357h1v1h-1zM77 357h3v1h-3zM293 357h4v1h-4zM311 357h1v1h-1zM10 358h1v1h-1zM297 358h4v1h-4zM308 358h3v1h-3zM8 359h2v1h-2zM301 359h7v1h-7zM7 360h1v1h-1zM2 361h5v1h-5z" fill="#ff0000"/>
<rect x="2" y="110" width="1146" height="2" fill="#ff0000"/>
<rect x="1" y="108" width="6" height="6" fill="#ff0000"/>
<rect x="3" y="110" width="2" height="2" fill="#fff"/>
<rect x="1142" y="108" width="6" height="6" fill="#ff0000"/>
<rect x="1144" y="110" width="2" height="2" fill="#fff"/>
<rect x="1150" y="105" width="41" height="11" fill="#ff0000"/>
<text x="1154.4" y="114" font-size="9.8" fill="#fff" textLength="32.2" lengthAdjust="spacingAndGlyphs" stroke="#fff" stroke-width="0.2">0.97334</text>
<rect x="2" y="165" width="1146" height="2" fill="#00ff00"/>
<rect x="1" y="163" width="6" height="6" fill="#00ff00"/>
<rect x="3" y="165" width="2" height="2" fill="#fff"/>
<rect x="1142" y="163" width="6" height="6" fill="#00ff00"/>
<rect x="1144" y="165" width="2" height="2" fill="#fff"/>
<rect x="1150" y="160" width="41" height="11" fill="#00ff00"/>
<text x="1154.4" y="169" font-size="9.8" fill="#fff" textLength="32.2" lengthAdjust="spacingAndGlyphs" stroke="#fff" stroke-width="0.2">0.96019</text>
<rect x="2" y="207" width="1146" height="2" fill="#0000ff"/>
<rect x="1" y="205" width="6" height="6" fill="#0000ff"/>
<rect x="3" y="207" width="2" height="2" fill="#fff"/>
<rect x="1142" y="205" width="6" height="6" fill="#0000ff"/>
<rect x="1144" y="207" width="2" height="2" fill="#fff"/>
<rect x="1150" y="202" width="41" height="11" fill="#0000ff"/>
<text x="1154.4" y="211" font-size="9.8" fill="#fff" textLength="32.2" lengthAdjust="spacingAndGlyphs" stroke="#fff" stroke-width="0.2">0.95004</text>
<rect x="2" y="257" width="1146" height="2" fill="#0000ff"/>
<rect x="1" y="255" width="6" height="6" fill="#0000ff"/>
<rect x="3" y="257" width="2" height="2" fill="#fff"/>
<rect x="1142" y="255" width="6" height="6" fill="#0000ff"/>
<rect x="1144" y="257" width="2" height="2" fill="#fff"/>
<rect x="1150" y="252" width="41" height="11" fill="#0000ff"/>
<text x="1154.4" y="261" font-size="9.8" fill="#fff" textLength="32.2" lengthAdjust="spacingAndGlyphs" stroke="#fff" stroke-width="0.2">0.93807</text>
<rect x="2" y="299" width="1146" height="2" fill="#0000ff"/>
<rect x="1" y="297" width="6" height="6" fill="#0000ff"/>
<rect x="3" y="299" width="2" height="2" fill="#fff"/>
<rect x="1142" y="297" width="6" height="6" fill="#0000ff"/>
<rect x="1144" y="299" width="2" height="2" fill="#fff"/>
<rect x="1150" y="294" width="41" height="11" fill="#0000ff"/>
<text x="1154.4" y="303" font-size="9.8" fill="#fff" textLength="32.2" lengthAdjust="spacingAndGlyphs" stroke="#fff" stroke-width="0.2">0.92801</text>
<rect x="2" y="352" width="1" height="2" fill="#2acb2a"/>
<rect x="1" y="353" width="3" height="1" fill="#2acb2a"/>
<rect x="6" y="349" width="1" height="24" fill="#2acb2a"/>
<rect x="5" y="353" width="3" height="13" fill="#2acb2a"/>
<rect x="6" y="354" width="1" height="11" fill="#32cd32"/>
<rect x="10" y="354" width="1" height="23" fill="#ff0000"/>
<rect x="9" y="355" width="3" height="11" fill="#ff0000"/>
<rect x="10" y="356" width="1" height="9" fill="#ff4500"/>
<rect x="14" y="335" width="1" height="30" fill="#ff0000"/>
<rect x="13" y="344" width="3" height="12" fill="#ff0000"/>
<rect x="14" y="345" width="1" height="10" fill="#ff4500"/>
<rect x="18" y="331" width="1" height="27" fill="#ff0000"/>
<rect x="17" y="338" width="3" height="7" fill="#ff0000"/>
<rect x="18" y="339" width="1" height="5" fill="#ff4500"/>
<rect x="22" y="338" width="1" height="14" fill="#2acb2a"/>
<rect x="21" y="338" width="3" height="7" fill="#2acb2a"/>
<rect x="22" y="339" width="1" height="5" fill="#32cd32"/>
<rect x="26" y="344" width="1" height="2" fill="#2acb2a"/>
<rect x="25" y="344" width="3" height="2" fill="#2acb2a"/>
<rect x="30" y="343" width="1" height="25" fill="#2acb2a"/>
<rect x="29" y="344" width="3" height="23" fill="#2acb2a"/>
<rect x="30" y="345" width="1" height="21" fill="#32cd32"/>
<rect x="34" y="359" width="1" height="13" fill="#ff0000"/>
<rect x="33" y="362" width="3" height="5" fill="#ff0000"/>
<rect x="34" y="363" width="1" height="3" fill="#ff4500"/>
<rect x="38" y="351" width="1" height="15" fill="#ff0000"/>
<rect x="37" y="360" width="3" height="3" fill="#ff0000"/>
<rect x="38" y="361" width="1" height="1" fill="#ff4500"/>
<rect x="42" y="337" width="1" height="25" fill="#ff0000"/>
<rect x="41" y="342" width="3" height="19" fill="#ff0000"/>
<rect x="42" y="343" width="1" height="17" fill="#ff4500"/>
<rect x="46" y="334" width="1" height="40" fill="#2acb2a"/>
<rect x="45" y="343" width="3" height="28" fill="#2acb2a"/>
<rect x="46" y="344" width="1" height="26" fill="#32cd32"/>
<rect x="50" y="368" width="1" height="3" fill="#ff0000"/>
<rect x="49" y="369" width="3" height="2" fill="#ff0000"/>
<rect x="54" y="340" width="1" height="36" fill="#ff0000"/>
<rect x="53" y="345" width="3" height="26" fill="#ff0000"/>
<rect x="54" y="346" width="1" height="24" fill="#ff4500"/>
<rect x="58" y="345" width="1" height="26" fill="#2acb2a"/>
<rect x="57" y="345" width="3" height="9" fill="#2acb2a"/>
<rect x="58" y="346" width="1" height="7" fill="#32cd32"/>
<rect x="62" y="338" width="1" height="22" fill="#ff0000"/>
<rect x="61" y="352" width="3" height="2" fill="#ff0000"/>
<rect x="66" y="347" width="1" height="14" fill="#2acb2a"/>
<rect x="65" y="352" width="3" height="6" fill="#2acb2a"/>
<rect x="66" y="353" width="1" height="4" fill="#32cd32"/>
<rect x="70" y="351" width="1" height="19" fill="#2acb2a"/>
<rect x="69" y="357" width="3" height="6" fill="#2acb2a"/>
<rect x="70" y="358" width="1" height="4" fill="#32cd32"/>
<rect x="74" y="358" width="1" height="4" fill="#2acb2a"/>
<rect x="73" y="359" width="3" height="2" fill="#2acb2a"/>
<rect x="78" y="347" width="1" height="14" fill="#ff0000"/>
<rect x="77" y="355" width="3" height="6" fill="#ff0000"/>
<rect x="78" y="356" width="1" height="4" fill="#ff4500"/>
<rect x="82" y="334" width="1" height="29" fill="#ff0000"/>
<rect x="81" y="336" width="3" height="20" fill="#ff0000"/>
<rect x="82" y="337" width="1" height="18" fill="#ff4500"/>
<rect x="86" y="320" width="1" height="22" fill="#ff0000"/>
<rect x="85" y="326" width="3" height="11" fill="#ff0000"/>
<rect x="86" y="327" width="1" height="9" fill="#ff4500"/>
<rect x="90" y="324" width="1" height="28" fill="#2acb2a"/>
<rect x="89" y="326" width="3" height="23" fill="#2acb2a"/>
<rect x="90" y="327" width="1" height="21" fill="#32cd32"/>
<rect x="94" y="340" width="1" height="16" fill="#ff0000"/>
<rect x="93" y="343" width="3" height="6" fill="#ff0000"/>
<rect x="94" y="344" width="1" height="4" fill="#ff4500"/>
<rect x="98" y="341" width="1" height="2" fill="#ff0000"/>
<rect x="97" y="341" width="3" height="2" fill="#ff0000"/>
<rect x="102" y="317" width="1" height="26" fill="#ff0000"/>
<rect x="101" y="324" width="3" height="18" fill="#ff0000"/>
<rect x="102" y="325" width="1" height="16" fill="#ff4500"/>
<rect x="106" y="322" width="1" height="21" fill="#2acb2a"/>
<rect x="105" y="324" width="3" height="11" fill="#2acb2a"/>
<rect x="106" y="325" width="1" height="9" fill="#32cd32"/>
<rect x="110" y="332" width="1" height="18" fill="#2acb2a"/>
<rect x="109" y="334" width="3" height="2" fill="#2acb2a"/>
<rect x="114" y="301" width="1" height="36" fill="#ff0000"/>
<rect x="113" y="303" width="3" height="33" fill="#ff0000"/>
<rect x="114" y="304" width="1" height="31" fill="#ff4500"/>
<rect x="118" y="282" width="1" height="28" fill="#ff0000"/>
<rect x="117" y="282" width="3" height="22" fill="#ff0000"/>
<rect x="118" y="283" width="1" height="20" fill="#ff4500"/>
<rect x="122" y="283" width="1" height="2" fill="#2acb2a"/>
<rect x="121" y="283" width="3" height="2" fill="#2acb2a"/>
<rect x="126" y="279" width="1" height="26" fill="#2acb2a"/>
<rect x="125" y="284" width="3" height="19" fill="#2acb2a"/>
<rect x="126" y="285" width="1" height="17" fill="#32cd32"/>
<rect x="130" y="299" width="1" height="25" fill="#2acb2a"/>
<rect x="129" y="302" width="3" height="18" fill="#2acb2a"/>
<rect x="130" y="303" width="1" height="16" fill="#32cd32"/>
<rect x="134" y="304" width="1" height="24" fill="#ff0000"/>
<rect x="133" y="307" width="3" height="13" fill="#ff0000"/>
<rect x="134" y="308" width="1" height="11" fill="#ff4500"/>
<rect x="138" y="303" width="1" height="25" fill="#2acb2a"/>
<rect x="137" y="307" width="3" height="8" fill="#2acb2a"/>
<rect x="138" y="308" width="1" height="6" fill="#32cd32"/>
<rect x="142" y="309" width="1" height="17" fill="#ff0000"/>
<rect x="141" y="313" width="3" height="2" fill="#ff0000"/>
<rect x="146" y="312" width="1" height="4" fill="#2acb2a"/>
<rect x="145" y="313" width="3" height="3" fill="#2acb2a"/>
<rect x="146" y="314" width="1" height="1" fill="#32cd32"/>
<rect x="150" y="296" width="1" height="20" fill="#ff0000"/>
<rect x="149" y="310" width="3" height="6" fill="#ff0000"/>
<rect x="150" y="311" width="1" height="4" fill="#ff4500"/>
<rect x="154" y="291" width="1" height="20" fill="#ff0000"/>
<rect x="153" y="296" width="3" height="15" fill="#ff0000"/>
<rect x="154" y="297" width="1" height="13" fill="#ff4500"/>
<rect x="158" y="269" width="1" height="33" fill="#ff0000"/>
<rect x="157" y="274" width="3" height="23" fill="#ff0000"/>
<rect x="158" y="275" width="1" height="21" fill="#ff4500"/>
<rect x="162" y="264" width="1" height="25" fill="#2acb2a"/>
<rect x="161" y="274" width="3" height="8" fill="#2acb2a"/>
<rect x="162" y="275" width="1" height="6" fill="#32cd32"/>
<rect x="166" y="277" width="1" height="24" fill="#2acb2a"/>
<rect x="165" y="281" width="3" height="12" fill="#2acb2a"/>
<rect x="166" y="282" width="1" height="10" fill="#32cd32"/>
<rect x="170" y="293" width="1" height="3" fill="#2acb2a"/>
<rect x="169" y="293" width="3" height="2" fill="#2acb2a"/>
<rect x="174" y="288" width="1" height="34" fill="#2acb2a"/>
<rect x="173" y="294" width="3" height="20" fill="#2acb2a"/>
<rect x="174" y="295" width="1" height="18" fill="#32cd32"/>
<rect x="178" y="297" width="1" height="19" fill="#ff0000"/>
<rect x="177" y="299" width="3" height="15" fill="#ff0000"/>
<rect x="178" y="300" width="1" height="13" fill="#ff4500"/>
<rect x="182" y="289" width="1" height="16" fill="#2acb2a"/>
<rect x="181" y="299" width="3" height="3" fill="#2acb2a"/>
<rect x="182" y="300" width="1" height="1" fill="#32cd32"/>
<rect x="186" y="295" width="1" height="18" fill="#ff0000"/>
<rect x="185" y="298" width="3" height="4" fill="#ff0000"/>
<rect x="186" y="299" width="1" height="2" fill="#ff4500"/>
<rect x="190" y="290" width="1" height="20" fill="#2acb2a"/>
<rect x="189" y="298" width="3" height="9" fill="#2acb2a"/>
<rect x="190" y="299" width="1" height="7" fill="#32cd32"/>
<rect x="194" y="301" width="1" height="4" fill="#ff0000"/>
<rect x="193" y="301" width="3" height="2" fill="#ff0000"/>
<rect x="198" y="297" width="1" height="17" fill="#2acb2a"/>
<rect x="197" y="299" width="3" height="4" fill="#2acb2a"/>
<rect x="198" y="300" width="1" height="2" fill="#32cd32"/>
<rect x="202" y="287" width="1" height="24" fill="#ff0000"/>
<rect x="201" y="290" width="3" height="12" fill="#ff0000"/>
<rect x="202" y="291" width="1" height="10" fill="#ff4500"/>
<rect x="206" y="289" width="1" height="32" fill="#2acb2a"/>
<rect x="205" y="289" width="3" height="29" fill="#2acb2a"/>
<rect x="206" y="290" width="1" height="27" fill="#32cd32"/>
<rect x="210" y="316" width="1" height="21" fill="#ff0000"/>
<rect x="209" y="316" width="3" height="2" fill="#ff0000"/>
<rect x="214" y="307" width="1" height="18" fill="#2acb2a"/>
<rect x="213" y="316" width="3" height="7" fill="#2acb2a"/>
<rect x="214" y="317" width="1" height="5" fill="#32cd32"/>
<rect x="218" y="319" width="1" height="4" fill="#ff0000"/>
<rect x="217" y="319" width="3" height="3" fill="#ff0000"/>
<rect x="218" y="320" width="1" height="1" fill="#ff4500"/>
<rect x="222" y="304" width="1" height="21" fill="#000"/>
<rect x="221" y="319" width="3" height="1" fill="#000"/>
<rect x="226" y="319" width="1" height="22" fill="#2acb2a"/>
<rect x="225" y="319" width="3" height="3" fill="#2acb2a"/>
<rect x="226" y="320" width="1" height="1" fill="#32cd32"/>
<rect x="230" y="311" width="1" height="30" fill="#2acb2a"/>
<rect x="229" y="321" width="3" height="18" fill="#2acb2a"/>
<rect x="230" y="322" width="1" height="16" fill="#32cd32"/>
<rect x="234" y="331" width="1" height="16" fill="#2acb2a"/>
<rect x="233" y="339" width="3" height="4" fill="#2acb2a"/>
<rect x="234" y="340" width="1" height="2" fill="#32cd32"/>
<rect x="238" y="340" width="1" height="15" fill="#2acb2a"/>
<rect x="237" y="342" width="3" height="9" fill="#2acb2a"/>
<rect x="238" y="343" width="1" height="7" fill="#32cd32"/>
<rect x="242" y="347" width="1" height="4" fill="#ff0000"/>
<rect x="241" y="348" width="3" height="3" fill="#ff0000"/>
<rect x="242" y="349" width="1" height="1" fill="#ff4500"/>
<rect x="246" y="333" width="1" height="23" fill="#ff0000"/>
<rect x="245" y="334" width="3" height="15" fill="#ff0000"/>
<rect x="246" y="335" width="1" height="13" fill="#ff4500"/>
<rect x="250" y="323" width="1" height="17" fill="#2acb2a"/>
<rect x="249" y="334" width="3" height="2" fill="#2acb2a"/>
<rect x="254" y="332" width="1" height="18" fill="#2acb2a"/>
<rect x="253" y="335" width="3" height="8" fill="#2acb2a"/>
<rect x="254" y="336" width="1" height="6" fill="#32cd32"/>
<rect x="258" y="336" width="1" height="35" fill="#2acb2a"/>
<rect x="257" y="342" width="3" height="28" fill="#2acb2a"/>
<rect x="258" y="343" width="1" height="26" fill="#32cd32"/>
<rect x="262" y="344" width="1" height="32" fill="#ff0000"/>
<rect x="261" y="353" width="3" height="17" fill="#ff0000"/>
<rect x="262" y="354" width="1" height="15" fill="#ff4500"/>
<rect x="266" y="349" width="1" height="4" fill="#ff0000"/>
<rect x="265" y="350" width="3" height="3" fill="#ff0000"/>
<rect x="266" y="351" width="1" height="1" fill="#ff4500"/>
<rect x="270" y="346" width="1" height="36" fill="#2acb2a"/>
<rect x="269" y="350" width="3" height="29" fill="#2acb2a"/>
<rect x="270" y="351" width="1" height="27" fill="#32cd32"/>
<rect x="274" y="355" width="1" height="26" fill="#ff0000"/>
<rect x="273" y="356" width="3" height="23" fill="#ff0000"/>
<rect x="274" y="357" width="1" height="21" fill="#ff4500"/>
<rect x="278" y="355" width="1" height="20" fill="#2acb2a"/>
<rect x="277" y="356" width="3" height="15" fill="#2acb2a"/>
<rect x="278" y="357" width="1" height="13" fill="#32cd32"/>
<rect x="282" y="357" width="1" height="15" fill="#ff0000"/>
<rect x="281" y="365" width="3" height="6" fill="#ff0000"/>
<rect x="282" y="366" width="1" height="4" fill="#ff4500"/>
<rect x="286" y="344" width="1" height="28" fill="#2acb2a"/>
<rect x="285" y="365" width="3" height="1" fill="#2acb2a"/>
<rect x="290" y="366" width="1" height="3" fill="#2acb2a"/>
<rect x="289" y="367" width="3" height="1" fill="#2acb2a"/>
<rect x="294" y="352" width="1" height="16" fill="#ff0000"/>
<rect x="293" y="362" width="3" height="6" fill="#ff0000"/>
<rect x="294" y="363" width="1" height="4" fill="#ff4500"/>
<rect x="298" y="353" width="1" height="23" fill="#2acb2a"/>
<rect x="297" y="361" width="3" height="11" fill="#2acb2a"/>
<rect x="298" y="362" width="1" height="9" fill="#32cd32"/>
<rect x="302" y="340" width="1" height="33" fill="#ff0000"/>
<rect x="301" y="342" width="3" height="30" fill="#ff0000"/>
<rect x="302" y="343" width="1" height="28" fill="#ff4500"/>
<rect x="306" y="324" width="1" height="20" fill="#ff0000"/>
<rect x="305" y="329" width="3" height="14" fill="#ff0000"/>
<rect x="306" y="330" width="1" height="12" fill="#ff4500"/>
<rect x="310" y="318" width="1" height="16" fill="#2acb2a"/>
<rect x="309" y="329" width="3" height="3" fill="#2acb2a"/>
<rect x="310" y="330" width="1" height="1" fill="#32cd32"/>
<rect x="314" y="329" width="1" height="2" fill="#ff0000"/>
<rect x="313" y="329" width="3" height="2" fill="#ff0000"/>
<rect x="318" y="310" width="1" height="30" fill="#ff0000"/>
<rect x="317" y="312" width="3" height="18" fill="#ff0000"/>
<rect x="318" y="313" width="1" height="16" fill="#ff4500"/>
<rect x="322" y="287" width="1" height="33" fill="#ff0000"/>
<rect x="321" y="291" width="3" height="22" fill="#ff0000"/>
<rect x="322" y="292" width="1" height="20" fill="#ff4500"/>
<rect x="326" y="280" width="1" height="23" fill="#2acb2a"/>
<rect x="325" y="291" width="3" height="8" fill="#2acb2a"/>
<rect x="326" y="292" width="1" height="6" fill="#32cd32"/>
<rect x="330" y="296" width="1" height="18" fill="#2acb2a"/>
<rect x="329" y="298" width="3" height="13" fill="#2acb2a"/>
<rect x="330" y="299" width="1" height="11" fill="#32cd32"/>
<rect x="334" y="296" width="1" height="18" fill="#ff0000"/>
<rect x="333" y="298" width="3" height="13" fill="#ff0000"/>
<rect x="334" y="299" width="1" height="11" fill="#ff4500"/>
<rect x="338" y="294" width="1" height="6" fill="#ff0000"/>
<rect x="337" y="295" width="3" height="4" fill="#ff0000"/>
<rect x="338" y="296" width="1" height="2" fill="#ff4500"/>
<rect x="342" y="278" width="1" height="29" fill="#ff0000"/>
<rect x="341" y="281" width="3" height="15" fill="#ff0000"/>
<rect x="342" y="282" width="1" height="13" fill="#ff4500"/>
<rect x="346" y="274" width="1" height="19" fill="#ff0000"/>
<rect x="345" y="278" width="3" height="4" fill="#ff0000"/>
<rect x="346" y="279" width="1" height="2" fill="#ff4500"/>
<rect x="350" y="262" width="1" height="19" fill="#ff0000"/>
<rect x="349" y="275" width="3" height="4" fill="#ff0000"/>
<rect x="350" y="276" width="1" height="2" fill="#ff4500"/>
<rect x="354" y="267" width="1" height="16" fill="#ff0000"/>
<rect x="353" y="270" width="3" height="6" fill="#ff0000"/>
<rect x="354" y="271" width="1" height="4" fill="#ff4500"/>
<rect x="358" y="269" width="1" height="60" fill="#2acb2a"/>
<rect x="357" y="270" width="3" height="58" fill="#2acb2a"/>
<rect x="358" y="271" width="1" height="56" fill="#32cd32"/>
<rect x="362" y="312" width="1" height="13" fill="#ff0000"/>
<rect x="361" y="316" width="3" height="7" fill="#ff0000"/>
<rect x="362" y="317" width="1" height="5" fill="#ff4500"/>
<rect x="366" y="304" width="1" height="20" fill="#2acb2a"/>
<rect x="365" y="315" width="3" height="8" fill="#2acb2a"/>
<rect x="366" y="316" width="1" height="6" fill="#32cd32"/>
<rect x="370" y="306" width="1" height="47" fill="#2acb2a"/>
<rect x="369" y="322" width="3" height="15" fill="#2acb2a"/>
<rect x="370" y="323" width="1" height="13" fill="#32cd32"/>
<rect x="374" y="327" width="1" height="21" fill="#ff0000"/>
<rect x="373" y="331" width="3" height="6" fill="#ff0000"/>
<rect x="374" y="332" width="1" height="4" fill="#ff4500"/>
<rect x="378" y="325" width="1" height="19" fill="#2acb2a"/>
<rect x="377" y="331" width="3" height="5" fill="#2acb2a"/>
<rect x="378" y="332" width="1" height="3" fill="#32cd32"/>
<rect x="382" y="327" width="1" height="22" fill="#2acb2a"/>
<rect x="381" y="335" width="3" height="10" fill="#2acb2a"/>
<rect x="382" y="336" width="1" height="8" fill="#32cd32"/>
<rect x="386" y="339" width="1" height="8" fill="#ff0000"/>
<rect x="385" y="340" width="3" height="7" fill="#ff0000"/>
<rect x="386" y="341" width="1" height="5" fill="#ff4500"/>
<rect x="390" y="305" width="1" height="36" fill="#ff0000"/>
<rect x="389" y="311" width="3" height="30" fill="#ff0000"/>
<rect x="390" y="312" width="1" height="28" fill="#ff4500"/>
<rect x="394" y="303" width="1" height="19" fill="#2acb2a"/>
<rect x="393" y="311" width="3" height="5" fill="#2acb2a"/>
<rect x="394" y="312" width="1" height="3" fill="#32cd32"/>
<rect x="398" y="312" width="1" height="26" fill="#2acb2a"/>
<rect x="397" y="315" width="3" height="19" fill="#2acb2a"/>
<rect x="398" y="316" width="1" height="17" fill="#32cd32"/>
<rect x="402" y="307" width="1" height="28" fill="#ff0000"/>
<rect x="401" y="318" width="3" height="16" fill="#ff0000"/>
<rect x="402" y="319" width="1" height="14" fill="#ff4500"/>
<rect x="406" y="312" width="1" height="23" fill="#2acb2a"/>
<rect x="405" y="318" width="3" height="13" fill="#2acb2a"/>
<rect x="406" y="319" width="1" height="11" fill="#32cd32"/>
<rect x="410" y="327" width="1" height="7" fill="#ff0000"/>
<rect x="409" y="328" width="3" height="6" fill="#ff0000"/>
<rect x="410" y="329" width="1" height="4" fill="#ff4500"/>
<rect x="414" y="310" width="1" height="22" fill="#ff0000"/>
<rect x="413" y="324" width="3" height="6" fill="#ff0000"/>
<rect x="414" y="325" width="1" height="4" fill="#ff4500"/>
<rect x="418" y="315" width="1" height="25" fill="#ff0000"/>
<rect x="417" y="317" width="3" height="8" fill="#ff0000"/>
<rect x="418" y="318" width="1" height="6" fill="#ff4500"/>
<rect x="422" y="295" width="1" height="26" fill="#ff0000"/>
<rect x="421" y="315" width="3" height="2" fill="#ff0000"/>
<rect x="426" y="310" width="1" height="29" fill="#2acb2a"/>
<rect x="425" y="315" width="3" height="24" fill="#2acb2a"/>
<rect x="426" y="316" width="1" height="22" fill="#32cd32"/>
<rect x="430" y="315" width="1" height="31" fill="#ff0000"/>
<rect x="429" y="318" width="3" height="21" fill="#ff0000"/>
<rect x="430" y="319" width="1" height="19" fill="#ff4500"/>
<rect x="434" y="315" width="1" height="6" fill="#2acb2a"/>
<rect x="433" y="316" width="3" height="5" fill="#2acb2a"/>
<rect x="434" y="317" width="1" height="3" fill="#32cd32"/>
<rect x="438" y="313" width="1" height="25" fill="#2acb2a"/>
<rect x="437" y="320" width="3" height="8" fill="#2acb2a"/>
<rect x="438" y="321" width="1" height="6" fill="#32cd32"/>
<rect x="442" y="311" width="1" height="26" fill="#ff0000"/>
<rect x="441" y="321" width="3" height="7" fill="#ff0000"/>
<rect x="442" y="322" width="1" height="5" fill="#ff4500"/>
<rect x="446" y="312" width="1" height="27" fill="#2acb2a"/>
<rect x="445" y="321" width="3" height="16" fill="#2acb2a"/>
<rect x="446" y="322" width="1" height="14" fill="#32cd32"/>
<rect x="450" y="326" width="1" height="20" fill="#2acb2a"/>
<rect x="449" y="336" width="3" height="6" fill="#2acb2a"/>
<rect x="450" y="337" width="1" height="4" fill="#32cd32"/>
<rect x="454" y="335" width="1" height="14" fill="#ff0000"/>
<rect x="453" y="339" width="3" height="3" fill="#ff0000"/>
<rect x="454" y="340" width="1" height="1" fill="#ff4500"/>
<rect x="458" y="339" width="1" height="6" fill="#ff0000"/>
<rect x="457" y="339" width="3" height="2" fill="#ff0000"/>
<rect x="462" y="334" width="1" height="14" fill="#2acb2a"/>
<rect x="461" y="339" width="3" height="8" fill="#2acb2a"/>
<rect x="462" y="340" width="1" height="6" fill="#32cd32"/>
<rect x="466" y="338" width="1" height="14" fill="#2acb2a"/>
<rect x="465" y="346" width="3" height="1" fill="#2acb2a"/>
<rect x="470" y="333" width="1" height="33" fill="#2acb2a"/>
<rect x="469" y="346" width="3" height="14" fill="#2acb2a"/>
<rect x="470" y="347" width="1" height="12" fill="#32cd32"/>
<rect x="474" y="342" width="1" height="21" fill="#000"/>
<rect x="473" y="359" width="3" height="1" fill="#000"/>
<rect x="478" y="356" width="1" height="20" fill="#2acb2a"/>
<rect x="477" y="359" width="3" height="10" fill="#2acb2a"/>
<rect x="478" y="360" width="1" height="8" fill="#32cd32"/>
<rect x="482" y="365" width="1" height="10" fill="#ff0000"/>
<rect x="481" y="367" width="3" height="8" fill="#ff0000"/>
<rect x="482" y="368" width="1" height="6" fill="#ff4500"/>
<rect x="486" y="334" width="1" height="36" fill="#ff0000"/>
<rect x="485" y="341" width="3" height="27" fill="#ff0000"/>
<rect x="486" y="342" width="1" height="25" fill="#ff4500"/>
<rect x="490" y="337" width="1" height="24" fill="#2acb2a"/>
<rect x="489" y="341" width="3" height="10" fill="#2acb2a"/>
<rect x="490" y="342" width="1" height="8" fill="#32cd32"/>
<rect x="494" y="341" width="1" height="19" fill="#ff0000"/>
<rect x="493" y="345" width="3" height="6" fill="#ff0000"/>
<rect x="494" y="346" width="1" height="4" fill="#ff4500"/>
<rect x="498" y="324" width="1" height="23" fill="#ff0000"/>
<rect x="497" y="328" width="3" height="18" fill="#ff0000"/>
<rect x="498" y="329" width="1" height="16" fill="#ff4500"/>
<rect x="502" y="321" width="1" height="21" fill="#2acb2a"/>
<rect x="501" y="328" width="3" height="14" fill="#2acb2a"/>
<rect x="502" y="329" width="1" height="12" fill="#32cd32"/>
<rect x="506" y="337" width="1" height="4" fill="#ff0000"/>
<rect x="505" y="339" width="3" height="2" fill="#ff0000"/>
<rect x="510" y="303" width="1" height="38" fill="#ff0000"/>
<rect x="509" y="304" width="3" height="36" fill="#ff0000"/>
<rect x="510" y="305" width="1" height="34" fill="#ff4500"/>
<rect x="514" y="301" width="1" height="21" fill="#2acb2a"/>
<rect x="513" y="304" width="3" height="16" fill="#2acb2a"/>
<rect x="514" y="305" width="1" height="14" fill="#32cd32"/>
<rect x="518" y="316" width="1" height="48" fill="#2acb2a"/>
<rect x="517" y="319" width="3" height="40" fill="#2acb2a"/>
<rect x="518" y="320" width="1" height="38" fill="#32cd32"/>
<rect x="522" y="356" width="1" height="24" fill="#2acb2a"/>
<rect x="521" y="358" width="3" height="14" fill="#2acb2a"/>
<rect x="522" y="359" width="1" height="12" fill="#32cd32"/>
<rect x="526" y="358" width="1" height="21" fill="#ff0000"/>
<rect x="525" y="360" width="3" height="12" fill="#ff0000"/>
<rect x="526" y="361" width="1" height="10" fill="#ff4500"/>
<rect x="530" y="356" width="1" height="8" fill="#ff0000"/>
<rect x="529" y="357" width="3" height="7" fill="#ff0000"/>
<rect x="530" y="358" width="1" height="5" fill="#ff4500"/>
<rect x="534" y="351" width="1" height="17" fill="#2acb2a"/>
<rect x="533" y="357" width="3" height="3" fill="#2acb2a"/>
<rect x="534" y="358" width="1" height="1" fill="#32cd32"/>
<rect x="538" y="343" width="1" height="20" fill="#ff0000"/>
<rect x="537" y="346" width="3" height="14" fill="#ff0000"/>
<rect x="538" y="347" width="1" height="12" fill="#ff4500"/>
<rect x="542" y="343" width="1" height="15" fill="#2acb2a"/>
<rect x="541" y="346" width="3" height="7" fill="#2acb2a"/>
<rect x="542" y="347" width="1" height="5" fill="#32cd32"/>
<rect x="546" y="342" width="1" height="18" fill="#ff0000"/>
<rect x="545" y="347" width="3" height="6" fill="#ff0000"/>
<rect x="546" y="348" width="1" height="4" fill="#ff4500"/>
<rect x="550" y="346" width="1" height="27" fill="#2acb2a"/>
<rect x="549" y="347" width="3" height="23" fill="#2acb2a"/>
<rect x="550" y="348" width="1" height="21" fill="#32cd32"/>
<rect x="554" y="365" width="1" height="7" fill="#ff0000"/>
<rect x="553" y="365" width="3" height="7" fill="#ff0000"/>
<rect x="554" y="366" width="1" height="5" fill="#ff4500"/>
<rect x="558" y="350" width="1" height="23" fill="#ff0000"/>
<rect x="557" y="359" width="3" height="7" fill="#ff0000"/>
<rect x="558" y="360" width="1" height="5" fill="#ff4500"/>
<rect x="562" y="332" width="1" height="28" fill="#ff0000"/>
<rect x="561" y="343" width="3" height="17" fill="#ff0000"/>
<rect x="562" y="344" width="1" height="15" fill="#ff4500"/>
<rect x="566" y="315" width="1" height="32" fill="#ff0000"/>
<rect x="565" y="317" width="3" height="27" fill="#ff0000"/>
<rect x="566" y="318" width="1" height="25" fill="#ff4500"/>
<rect x="570" y="276" width="1" height="43" fill="#ff0000"/>
<rect x="569" y="288" width="3" height="30" fill="#ff0000"/>
<rect x="570" y="289" width="1" height="28" fill="#ff4500"/>
<rect x="574" y="280" width="1" height="17" fill="#2acb2a"/>
<rect x="573" y="288" width="3" height="1" fill="#2acb2a"/>
<rect x="578" y="285" width="1" height="6" fill="#ff0000"/>
<rect x="577" y="287" width="3" height="4" fill="#ff0000"/>
<rect x="578" y="288" width="1" height="2" fill="#ff4500"/>
<rect x="582" y="274" width="1" height="39" fill="#2acb2a"/>
<rect x="581" y="287" width="3" height="18" fill="#2acb2a"/>
<rect x="582" y="288" width="1" height="16" fill="#32cd32"/>
<rect x="586" y="302" width="1" height="31" fill="#2acb2a"/>
<rect x="585" y="304" width="3" height="27" fill="#2acb2a"/>
<rect x="586" y="305" width="1" height="25" fill="#32cd32"/>
<rect x="590" y="325" width="1" height="19" fill="#2acb2a"/>
<rect x="589" y="330" width="3" height="9" fill="#2acb2a"/>
<rect x="590" y="331" width="1" height="7" fill="#32cd32"/>
<rect x="594" y="319" width="1" height="26" fill="#ff0000"/>
<rect x="593" y="332" width="3" height="7" fill="#ff0000"/>
<rect x="594" y="333" width="1" height="5" fill="#ff4500"/>
<rect x="598" y="310" width="1" height="28" fill="#ff0000"/>
<rect x="597" y="311" width="3" height="22" fill="#ff0000"/>
<rect x="598" y="312" width="1" height="20" fill="#ff4500"/>
<rect x="602" y="310" width="1" height="5" fill="#2acb2a"/>
<rect x="601" y="311" width="3" height="3" fill="#2acb2a"/>
<rect x="602" y="312" width="1" height="1" fill="#32cd32"/>
<rect x="606" y="308" width="1" height="18" fill="#2acb2a"/>
<rect x="605" y="312" width="3" height="10" fill="#2acb2a"/>
<rect x="606" y="313" width="1" height="8" fill="#32cd32"/>
<rect x="610" y="308" width="1" height="16" fill="#ff0000"/>
<rect x="609" y="313" width="3" height="8" fill="#ff0000"/>
<rect x="610" y="314" width="1" height="6" fill="#ff4500"/>
<rect x="614" y="311" width="1" height="15" fill="#2acb2a"/>
<rect x="613" y="313" width="3" height="4" fill="#2acb2a"/>
<rect x="614" y="314" width="1" height="2" fill="#32cd32"/>
<rect x="618" y="293" width="1" height="31" fill="#ff0000"/>
<rect x="617" y="310" width="3" height="7" fill="#ff0000"/>
<rect x="618" y="311" width="1" height="5" fill="#ff4500"/>
<rect x="622" y="298" width="1" height="20" fill="#2acb2a"/>
<rect x="621" y="310" width="3" height="3" fill="#2acb2a"/>
<rect x="622" y="311" width="1" height="1" fill="#32cd32"/>
<rect x="626" y="311" width="1" height="5" fill="#ff0000"/>
<rect x="625" y="313" width="3" height="3" fill="#ff0000"/>
<rect x="626" y="314" width="1" height="1" fill="#ff4500"/>
<rect x="630" y="304" width="1" height="15" fill="#2acb2a"/>
<rect x="629" y="314" width="3" height="2" fill="#2acb2a"/>
<rect x="634" y="303" width="1" height="21" fill="#ff0000"/>
<rect x="633" y="311" width="3" height="6" fill="#ff0000"/>
<rect x="634" y="312" width="1" height="4" fill="#ff4500"/>
<rect x="638" y="309" width="1" height="23" fill="#2acb2a"/>
<rect x="637" y="311" width="3" height="16" fill="#2acb2a"/>
<rect x="638" y="312" width="1" height="14" fill="#32cd32"/>
<rect x="642" y="322" width="1" height="18" fill="#2acb2a"/>
<rect x="641" y="326" width="3" height="10" fill="#2acb2a"/>
<rect x="642" y="327" width="1" height="8" fill="#32cd32"/>
<rect x="646" y="326" width="1" height="12" fill="#ff0000"/>
<rect x="645" y="329" width="3" height="7" fill="#ff0000"/>
<rect x="646" y="330" width="1" height="5" fill="#ff4500"/>
<rect x="650" y="328" width="1" height="5" fill="#2acb2a"/>
<rect x="649" y="329" width="3" height="3" fill="#2acb2a"/>
<rect x="650" y="330" width="1" height="1" fill="#32cd32"/>
<rect x="654" y="327" width="1" height="29" fill="#2acb2a"/>
<rect x="653" y="330" width="3" height="22" fill="#2acb2a"/>
<rect x="654" y="331" width="1" height="20" fill="#32cd32"/>
<rect x="658" y="322" width="1" height="33" fill="#ff0000"/>
<rect x="657" y="327" width="3" height="25" fill="#ff0000"/>
<rect x="658" y="328" width="1" height="23" fill="#ff4500"/>
<rect x="662" y="326" width="1" height="22" fill="#2acb2a"/>
<rect x="661" y="328" width="3" height="17" fill="#2acb2a"/>
<rect x="662" y="329" width="1" height="15" fill="#32cd32"/>
<rect x="666" y="297" width="1" height="49" fill="#ff0000"/>
<rect x="665" y="310" width="3" height="35" fill="#ff0000"/>
<rect x="666" y="311" width="1" height="33" fill="#ff4500"/>
<rect x="670" y="299" width="1" height="24" fill="#ff0000"/>
<rect x="669" y="307" width="3" height="4" fill="#ff0000"/>
<rect x="670" y="308" width="1" height="2" fill="#ff4500"/>
<rect x="674" y="302" width="1" height="12" fill="#ff0000"/>
<rect x="673" y="306" width="3" height="3" fill="#ff0000"/>
<rect x="674" y="307" width="1" height="1" fill="#ff4500"/>
<rect x="678" y="302" width="1" height="47" fill="#2acb2a"/>
<rect x="677" y="306" width="3" height="39" fill="#2acb2a"/>
<rect x="678" y="307" width="1" height="37" fill="#32cd32"/>
<rect x="682" y="332" width="1" height="24" fill="#ff0000"/>
<rect x="681" y="340" width="3" height="5" fill="#ff0000"/>
<rect x="682" y="341" width="1" height="3" fill="#ff4500"/>
<rect x="686" y="317" width="1" height="32" fill="#ff0000"/>
<rect x="685" y="332" width="3" height="9" fill="#ff0000"/>
<rect x="686" y="333" width="1" height="7" fill="#ff4500"/>
<rect x="690" y="327" width="1" height="21" fill="#2acb2a"/>
<rect x="689" y="332" width="3" height="12" fill="#2acb2a"/>
<rect x="690" y="333" width="1" height="10" fill="#32cd32"/>
<rect x="694" y="330" width="1" height="19" fill="#ff0000"/>
<rect x="693" y="341" width="3" height="3" fill="#ff0000"/>
<rect x="694" y="342" width="1" height="1" fill="#ff4500"/>
<rect x="698" y="332" width="1" height="17" fill="#ff0000"/>
<rect x="697" y="333" width="3" height="16" fill="#ff0000"/>
<rect x="698" y="334" width="1" height="14" fill="#ff4500"/>
<rect x="702" y="304" width="1" height="34" fill="#ff0000"/>
<rect x="701" y="311" width="3" height="23" fill="#ff0000"/>
<rect x="702" y="312" width="1" height="21" fill="#ff4500"/>
<rect x="706" y="290" width="1" height="25" fill="#ff0000"/>
<rect x="705" y="294" width="3" height="19" fill="#ff0000"/>
<rect x="706" y="295" width="1" height="17" fill="#ff4500"/>
<rect x="710" y="293" width="1" height="21" fill="#2acb2a"/>
<rect x="709" y="294" width="3" height="14" fill="#2acb2a"/>
<rect x="710" y="295" width="1" height="12" fill="#32cd32"/>
<rect x="714" y="288" width="1" height="24" fill="#ff0000"/>
<rect x="713" y="295" width="3" height="13" fill="#ff0000"/>
<rect x="714" y="296" width="1" height="11" fill="#ff4500"/>
<rect x="718" y="271" width="1" height="26" fill="#ff0000"/>
<rect x="717" y="272" width="3" height="24" fill="#ff0000"/>
<rect x="718" y="273" width="1" height="22" fill="#ff4500"/>
<rect x="722" y="271" width="1" height="4" fill="#2acb2a"/>
<rect x="721" y="272" width="3" height="1" fill="#2acb2a"/>
<rect x="726" y="256" width="1" height="29" fill="#ff0000"/>
<rect x="725" y="257" width="3" height="16" fill="#ff0000"/>
<rect x="726" y="258" width="1" height="14" fill="#ff4500"/>
<rect x="730" y="237" width="1" height="26" fill="#ff0000"/>
<rect x="729" y="247" width="3" height="11" fill="#ff0000"/>
<rect x="730" y="248" width="1" height="9" fill="#ff4500"/>
<rect x="734" y="226" width="1" height="30" fill="#ff0000"/>
<rect x="733" y="244" width="3" height="4" fill="#ff0000"/>
<rect x="734" y="245" width="1" height="2" fill="#ff4500"/>
<rect x="738" y="243" width="1" height="35" fill="#2acb2a"/>
<rect x="737" y="244" width="3" height="24" fill="#2acb2a"/>
<rect x="738" y="245" width="1" height="22" fill="#32cd32"/>
<rect x="742" y="258" width="1" height="29" fill="#2acb2a"/>
<rect x="741" y="267" width="3" height="19" fill="#2acb2a"/>
<rect x="742" y="268" width="1" height="17" fill="#32cd32"/>
<rect x="746" y="279" width="1" height="3" fill="#ff0000"/>
<rect x="745" y="280" width="3" height="2" fill="#ff0000"/>
<rect x="750" y="270" width="1" height="26" fill="#ff0000"/>
<rect x="749" y="276" width="3" height="5" fill="#ff0000"/>
<rect x="750" y="277" width="1" height="3" fill="#ff4500"/>
<rect x="754" y="261" width="1" height="27" fill="#2acb2a"/>
<rect x="753" y="276" width="3" height="3" fill="#2acb2a"/>
<rect x="754" y="277" width="1" height="1" fill="#32cd32"/>
<rect x="758" y="268" width="1" height="26" fill="#2acb2a"/>
<rect x="757" y="278" width="3" height="12" fill="#2acb2a"/>
<rect x="758" y="279" width="1" height="10" fill="#32cd32"/>
<rect x="762" y="274" width="1" height="22" fill="#2acb2a"/>
<rect x="761" y="289" width="3" height="6" fill="#2acb2a"/>
<rect x="762" y="290" width="1" height="4" fill="#32cd32"/>
<rect x="766" y="287" width="1" height="23" fill="#ff0000"/>
<rect x="765" y="289" width="3" height="6" fill="#ff0000"/>
<rect x="766" y="290" width="1" height="4" fill="#ff4500"/>
<rect x="770" y="286" width="1" height="3" fill="#ff0000"/>
<rect x="769" y="287" width="3" height="2" fill="#ff0000"/>
<rect x="774" y="258" width="1" height="32" fill="#ff0000"/>
<rect x="773" y="278" width="3" height="10" fill="#ff0000"/>
<rect x="774" y="279" width="1" height="8" fill="#ff4500"/>
<rect x="778" y="261" width="1" height="33" fill="#2acb2a"/>
<rect x="777" y="278" width="3" height="10" fill="#2acb2a"/>
<rect x="778" y="279" width="1" height="8" fill="#32cd32"/>
<rect x="782" y="287" width="1" height="40" fill="#2acb2a"/>
<rect x="781" y="287" width="3" height="35" fill="#2acb2a"/>
<rect x="782" y="288" width="1" height="33" fill="#32cd32"/>
<rect x="786" y="309" width="1" height="28" fill="#2acb2a"/>
<rect x="785" y="320" width="3" height="2" fill="#2acb2a"/>
<rect x="790" y="301" width="1" height="25" fill="#ff0000"/>
<rect x="789" y="311" width="3" height="11" fill="#ff0000"/>
<rect x="790" y="312" width="1" height="9" fill="#ff4500"/>
<rect x="794" y="308" width="1" height="3" fill="#2acb2a"/>
<rect x="793" y="308" width="3" height="2" fill="#2acb2a"/>
<rect x="798" y="300" width="1" height="16" fill="#ff0000"/>
<rect x="797" y="307" width="3" height="3" fill="#ff0000"/>
<rect x="798" y="308" width="1" height="1" fill="#ff4500"/>
<rect x="802" y="293" width="1" height="26" fill="#ff0000"/>
<rect x="801" y="294" width="3" height="14" fill="#ff0000"/>
<rect x="802" y="295" width="1" height="12" fill="#ff4500"/>
<rect x="806" y="271" width="1" height="24" fill="#ff0000"/>
<rect x="805" y="279" width="3" height="16" fill="#ff0000"/>
<rect x="806" y="280" width="1" height="14" fill="#ff4500"/>
<rect x="810" y="272" width="1" height="14" fill="#ff0000"/>
<rect x="809" y="273" width="3" height="7" fill="#ff0000"/>
<rect x="810" y="274" width="1" height="5" fill="#ff4500"/>
<rect x="814" y="262" width="1" height="20" fill="#2acb2a"/>
<rect x="813" y="273" width="3" height="5" fill="#2acb2a"/>
<rect x="814" y="274" width="1" height="3" fill="#32cd32"/>
<rect x="818" y="274" width="1" height="4" fill="#ff0000"/>
<rect x="817" y="274" width="3" height="4" fill="#ff0000"/>
<rect x="818" y="275" width="1" height="2" fill="#ff4500"/>
<rect x="822" y="262" width="1" height="31" fill="#2acb2a"/>
<rect x="821" y="274" width="3" height="13" fill="#2acb2a"/>
<rect x="822" y="275" width="1" height="11" fill="#32cd32"/>
<rect x="826" y="274" width="1" height="25" fill="#ff0000"/>
<rect x="825" y="281" width="3" height="6" fill="#ff0000"/>
<rect x="826" y="282" width="1" height="4" fill="#ff4500"/>
<rect x="830" y="269" width="1" height="18" fill="#ff0000"/>
<rect x="829" y="276" width="3" height="6" fill="#ff0000"/>
<rect x="830" y="277" width="1" height="4" fill="#ff4500"/>
<rect x="834" y="237" width="1" height="46" fill="#ff0000"/>
<rect x="833" y="238" width="3" height="39" fill="#ff0000"/>
<rect x="834" y="239" width="1" height="37" fill="#ff4500"/>
<rect x="838" y="233" width="1" height="14" fill="#2acb2a"/>
<rect x="837" y="238" width="3" height="1" fill="#2acb2a"/>
<rect x="842" y="238" width="1" height="4" fill="#ff0000"/>
<rect x="841" y="240" width="3" height="1" fill="#ff0000"/>
<rect x="846" y="228" width="1" height="15" fill="#ff0000"/>
<rect x="845" y="230" width="3" height="11" fill="#ff0000"/>
<rect x="846" y="231" width="1" height="9" fill="#ff4500"/>
<rect x="850" y="199" width="1" height="39" fill="#ff0000"/>
<rect x="849" y="200" width="3" height="31" fill="#ff0000"/>
<rect x="850" y="201" width="1" height="29" fill="#ff4500"/>
<rect x="854" y="194" width="1" height="35" fill="#2acb2a"/>
<rect x="853" y="200" width="3" height="14" fill="#2acb2a"/>
<rect x="854" y="201" width="1" height="12" fill="#32cd32"/>
<rect x="858" y="188" width="1" height="40" fill="#ff0000"/>
<rect x="857" y="193" width="3" height="20" fill="#ff0000"/>
<rect x="858" y="194" width="1" height="18" fill="#ff4500"/>
<rect x="862" y="170" width="1" height="28" fill="#ff0000"/>
<rect x="861" y="180" width="3" height="14" fill="#ff0000"/>
<rect x="862" y="181" width="1" height="12" fill="#ff4500"/>
<rect x="866" y="180" width="1" height="7" fill="#2acb2a"/>
<rect x="865" y="181" width="3" height="5" fill="#2acb2a"/>
<rect x="866" y="182" width="1" height="3" fill="#32cd32"/>
<rect x="870" y="168" width="1" height="22" fill="#ff0000"/>
<rect x="869" y="173" width="3" height="13" fill="#ff0000"/>
<rect x="870" y="174" width="1" height="11" fill="#ff4500"/>
<rect x="874" y="156" width="1" height="27" fill="#ff0000"/>
<rect x="873" y="157" width="3" height="17" fill="#ff0000"/>
<rect x="874" y="158" width="1" height="15" fill="#ff4500"/>
<rect x="878" y="125" width="1" height="36" fill="#ff0000"/>
<rect x="877" y="130" width="3" height="28" fill="#ff0000"/>
<rect x="878" y="131" width="1" height="26" fill="#ff4500"/>
<rect x="882" y="101" width="1" height="33" fill="#ff0000"/>
<rect x="881" y="118" width="3" height="13" fill="#ff0000"/>
<rect x="882" y="119" width="1" height="11" fill="#ff4500"/>
<rect x="886" y="110" width="1" height="28" fill="#2acb2a"/>
<rect x="885" y="118" width="3" height="4" fill="#2acb2a"/>
<rect x="886" y="119" width="1" height="2" fill="#32cd32"/>
<rect x="890" y="107" width="1" height="6" fill="#ff0000"/>
<rect x="889" y="108" width="3" height="4" fill="#ff0000"/>
<rect x="890" y="109" width="1" height="2" fill="#ff4500"/>
<rect x="894" y="88" width="1" height="32" fill="#ff0000"/>
<rect x="893" y="94" width="3" height="15" fill="#ff0000"/>
<rect x="894" y="95" width="1" height="13" fill="#ff4500"/>
<rect x="898" y="84" width="1" height="34" fill="#ff0000"/>
<rect x="897" y="89" width="3" height="6" fill="#ff0000"/>
<rect x="898" y="90" width="1" height="4" fill="#ff4500"/>
<rect x="902" y="62" width="1" height="56" fill="#2acb2a"/>
<rect x="901" y="89" width="3" height="24" fill="#2acb2a"/>
<rect x="902" y="90" width="1" height="22" fill="#32cd32"/>
<rect x="906" y="46" width="1" height="76" fill="#ff0000"/>
<rect x="905" y="62" width="3" height="51" fill="#ff0000"/>
<rect x="906" y="63" width="1" height="49" fill="#ff4500"/>
<rect x="910" y="47" width="1" height="26" fill="#ff0000"/>
<rect x="909" y="50" width="3" height="12" fill="#ff0000"/>
<rect x="910" y="51" width="1" height="10" fill="#ff4500"/>
<rect x="2" y="439" width="2" height="3" fill="#c0c0c0"/>
<rect x="5" y="441" width="3" height="1" fill="#c0c0c0"/>
<rect x="9" y="441" width="3" height="1" fill="#c0c0c0"/>
<rect x="13" y="440" width="3" height="2" fill="#c0c0c0"/>
<rect x="17" y="439" width="3" height="3" fill="#c0c0c0"/>
<rect x="21" y="439" width="3" height="3" fill="#c0c0c0"/>
<rect x="25" y="439" width="3" height="3" fill="#c0c0c0"/>
<rect x="29" y="441" width="3" height="1" fill="#c0c0c0"/>
<rect x="33" y="442" width="3" height="1" fill="#c0c0c0"/>
<rect x="37" y="442" width="3" height="1" fill="#c0c0c0"/>
<rect x="41" y="441" width="3" height="1" fill="#c0c0c0"/>
<rect x="45" y="442" width="3" height="2" fill="#c0c0c0"/>
<rect x="49" y="442" width="3" height="3" fill="#c0c0c0"/>
<rect x="53" y="442" width="3" height="2" fill="#c0c0c0"/>
<rect x="57" y="442" width="3" height="2" fill="#c0c0c0"/>
<rect x="61" y="442" width="3" height="1" fill="#c0c0c0"/>
<rect x="65" y="442" width="3" height="2" fill="#c0c0c0"/>
<rect x="69" y="442" width="3" height="2" fill="#c0c0c0"/>
<rect x="73" y="442" width="3" height="2" fill="#c0c0c0"/>
<rect x="77" y="442" width="3" height="2" fill="#c0c0c0"/>
<rect x="81" y="442" width="3" height="1" fill="#c0c0c0"/>
<rect x="85" y="440" width="3" height="2" fill="#c0c0c0"/>
<rect x="89" y="440" width="3" height="2" fill="#c0c0c0"/>
<rect x="93" y="440" width="3" height="2" fill="#c0c0c0"/>
<rect x="97" y="439" width="3" height="3" fill="#c0c0c0"/>
<rect x="101" y="438" width="3" height="4" fill="#c0c0c0"/>
<rect x="105" y="438" width="3" height="4" fill="#c0c0c0"/>
<rect x="109" y="437" width="3" height="5" fill="#c0c0c0"/>
<rect x="113" y="435" width="3" height="7" fill="#c0c0c0"/>
<rect x="117" y="432" width="3" height="10" fill="#c0c0c0"/>
<rect x="121" y="430" width="3" height="12" fill="#c0c0c0"/>
<rect x="125" y="429" width="3" height="13" fill="#c0c0c0"/>
<rect x="129" y="430" width="3" height="12" fill="#c0c0c0"/>
<rect x="133" y="430" width="3" height="12" fill="#c0c0c0"/>
<rect x="137" y="431" width="3" height="11" fill="#c0c0c0"/>
<rect x="141" y="432" width="3" height="10" fill="#c0c0c0"/>
<rect x="145" y="433" width="3" height="9" fill="#c0c0c0"/>
<rect x="149" y="433" width="3" height="9" fill="#c0c0c0"/>
<rect x="153" y="432" width="3" height="10" fill="#c0c0c0"/>
<rect x="157" y="430" width="3" height="12" fill="#c0c0c0"/>
<rect x="161" y="429" width="3" height="13" fill="#c0c0c0"/>
<rect x="165" y="430" width="3" height="12" fill="#c0c0c0"/>
<rect x="169" y="430" width="3" height="12" fill="#c0c0c0"/>
<rect x="173" y="432" width="3" height="10" fill="#c0c0c0"/>
<rect x="177" y="433" width="3" height="9" fill="#c0c0c0"/>
<rect x="181" y="433" width="3" height="9" fill="#c0c0c0"/>
<rect x="185" y="434" width="3" height="8" fill="#c0c0c0"/>
<rect x="189" y="435" width="3" height="7" fill="#c0c0c0"/>
<rect x="193" y="435" width="3" height="7" fill="#c0c0c0"/>
<rect x="197" y="436" width="3" height="6" fill="#c0c0c0"/>
<rect x="201" y="436" width="3" height="6" fill="#c0c0c0"/>
<rect x="205" y="437" width="3" height="5" fill="#c0c0c0"/>
<rect x="209" y="439" width="3" height="3" fill="#c0c0c0"/>
<rect x="213" y="440" width="3" height="2" fill="#c0c0c0"/>
<rect x="217" y="441" width="3" height="1" fill="#c0c0c0"/>
<rect x="221" y="442" width="3" height="1" fill="#c0c0c0"/>
<rect x="225" y="442" width="3" height="2" fill="#c0c0c0"/>
<rect x="229" y="442" width="3" height="4" fill="#c0c0c0"/>
<rect x="233" y="442" width="3" height="5" fill="#c0c0c0"/>
<rect x="237" y="442" width="3" height="7" fill="#c0c0c0"/>
<rect x="241" y="442" width="3" height="9" fill="#c0c0c0"/>
<rect x="245" y="442" width="3" height="8" fill="#c0c0c0"/>
<rect x="249" y="442" width="3" height="8" fill="#c0c0c0"/>
<rect x="253" y="442" width="3" height="9" fill="#c0c0c0"/>
<rect x="257" y="442" width="3" height="11" fill="#c0c0c0"/>
<rect x="261" y="442" width="3" height="11" fill="#c0c0c0"/>
<rect x="265" y="442" width="3" height="11" fill="#c0c0c0"/>
<rect x="269" y="442" width="3" height="13" fill="#c0c0c0"/>
<rect x="273" y="442" width="3" height="13" fill="#c0c0c0"/>
<rect x="277" y="442" width="3" height="14" fill="#c0c0c0"/>
<rect x="281" y="442" width="3" height="14" fill="#c0c0c0"/>
<rect x="285" y="442" width="3" height="14" fill="#c0c0c0"/>
<rect x="289" y="442" width="3" height="14" fill="#c0c0c0"/>
<rect x="293" y="442" width="3" height="13" fill="#c0c0c0"/>
<rect x="297" y="442" width="3" height="13" fill="#c0c0c0"/>
<rect x="301" y="442" width="3" height="11" fill="#c0c0c0"/>
<rect x="305" y="442" width="3" height="8" fill="#c0c0c0"/>
<rect x="309" y="442" width="3" height="6" fill="#c0c0c0"/>
<rect x="313" y="442" width="3" height="4" fill="#c0c0c0"/>
<rect x="317" y="442" width="3" height="2" fill="#c0c0c0"/>
<rect x="321" y="439" width="3" height="3" fill="#c0c0c0"/>
<rect x="325" y="437" width="3" height="5" fill="#c0c0c0"/>
<rect x="329" y="436" width="3" height="6" fill="#c0c0c0"/>
<rect x="333" y="434" width="3" height="8" fill="#c0c0c0"/>
<rect x="337" y="433" width="3" height="9" fill="#c0c0c0"/>
<rect x="341" y="431" width="3" height="11" fill="#c0c0c0"/>
<rect x="345" y="430" width="3" height="12" fill="#c0c0c0"/>
<rect x="349" y="428" width="3" height="14" fill="#c0c0c0"/>
<rect x="353" y="427" width="3" height="15" fill="#c0c0c0"/>
<rect x="357" y="430" width="3" height="12" fill="#c0c0c0"/>
<rect x="361" y="432" width="3" height="10" fill="#c0c0c0"/>
<rect x="365" y="434" width="3" height="8" fill="#c0c0c0"/>
<rect x="369" y="437" width="3" height="5" fill="#c0c0c0"/>
<rect x="373" y="439" width="3" height="3" fill="#c0c0c0"/>
<rect x="377" y="441" width="3" height="1" fill="#c0c0c0"/>
<rect x="381" y="442" width="3" height="2" fill="#c0c0c0"/>
<rect x="385" y="442" width="3" height="3" fill="#c0c0c0"/>
<rect x="389" y="442" width="3" height="2" fill="#c0c0c0"/>
<rect x="393" y="442" width="3" height="2" fill="#c0c0c0"/>
<rect x="397" y="442" width="3" height="2" fill="#c0c0c0"/>
<rect x="401" y="442" width="3" height="2" fill="#c0c0c0"/>
<rect x="405" y="442" width="3" height="2" fill="#c0c0c0"/>
<rect x="409" y="442" width="3" height="3" fill="#c0c0c0"/>
<rect x="413" y="442" width="3" height="3" fill="#c0c0c0"/>
<rect x="417" y="442" width="3" height="2" fill="#c0c0c0"/>
<rect x="421" y="442" width="3" height="1" fill="#c0c0c0"/>
<rect x="425" y="442" width="3" height="3" fill="#c0c0c0"/>
<rect x="429" y="442" width="3" height="2" fill="#c0c0c0"/>
<rect x="433" y="442" width="3" height="2" fill="#c0c0c0"/>
<rect x="437" y="442" width="3" height="2" fill="#c0c0c0"/>
<rect x="441" y="442" width="3" height="2" fill="#c0c0c0"/>
<rect x="445" y="442" width="3" height="3" fill="#c0c0c0"/>
<rect x="449" y="442" width="3" height="4" fill="#c0c0c0"/>
<rect x="453" y="442" width="3" height="4" fill="#c0c0c0"/>
<rect x="457" y="442" width="3" height="5" fill="#c0c0c0"/>
<rect x="461" y="442" width="3" height="6" fill="#c0c0c0"/>
<rect x="465" y="442" width="3" height="6" fill="#c0c0c0"/>
<rect x="469" y="442" width="3" height="8" fill="#c0c0c0"/>
<rect x="473" y="442" width="3" height="9" fill="#c0c0c0"/>
<rect x="477" y="442" width="3" height="10" fill="#c0c0c0"/>
<rect x="481" y="442" width="3" height="11" fill="#c0c0c0"/>
<rect x="485" y="442" width="3" height="10" fill="#c0c0c0"/>
<rect x="489" y="442" width="3" height="9" fill="#c0c0c0"/>
<rect x="493" y="442" width="3" height="8" fill="#c0c0c0"/>
<rect x="497" y="442" width="3" height="7" fill="#c0c0c0"/>
<rect x="501" y="442" width="3" height="6" fill="#c0c0c0"/>
<rect x="505" y="442" width="3" height="5" fill="#c0c0c0"/>
<rect x="509" y="442" width="3" height="2" fill="#c0c0c0"/>
<rect x="513" y="442" width="3" height="1" fill="#c0c0c0"/>
<rect x="517" y="442" width="3" height="2" fill="#c0c0c0"/>
<rect x="521" y="442" width="3" height="5" fill="#c0c0c0"/>
<rect x="525" y="442" width="3" height="6" fill="#c0c0c0"/>
<rect x="529" y="442" width="3" height="6" fill="#c0c0c0"/>
<rect x="533" y="442" width="3" height="7" fill="#c0c0c0"/>
<rect x="537" y="442" width="3" height="6" fill="#c0c0c0"/>
<rect x="541" y="442" width="3" height="6" fill="#c0c0c0"/>
<rect x="545" y="442" width="3" height="5" fill="#c0c0c0"/>
<rect x="549" y="442" width="3" height="7" fill="#c0c0c0"/>
<rect x="553" y="442" width="3" height="7" fill="#c0c0c0"/>
<rect x="557" y="442" width="3" height="7" fill="#c0c0c0"/>
<rect x="561" y="442" width="3" height="6" fill="#c0c0c0"/>
<rect x="565" y="442" width="3" height="3" fill="#c0c0c0"/>
<rect x="569" y="440" width="3" height="2" fill="#c0c0c0"/>
<rect x="573" y="436" width="3" height="6" fill="#c0c0c0"/>
<rect x="577" y="433" width="3" height="9" fill="#c0c0c0"/>
<rect x="581" y="433" width="3" height="9" fill="#c0c0c0"/>
<rect x="585" y="434" width="3" height="8" fill="#c0c0c0"/>
<rect x="589" y="436" width="3" height="6" fill="#c0c0c0"/>
<rect x="593" y="437" width="3" height="5" fill="#c0c0c0"/>
<rect x="597" y="436" width="3" height="6" fill="#c0c0c0"/>
<rect x="601" y="436" width="3" height="6" fill="#c0c0c0"/>
<rect x="605" y="436" width="3" height="6" fill="#c0c0c0"/>
<rect x="609" y="436" width="3" height="6" fill="#c0c0c0"/>
<rect x="613" y="436" width="3" height="6" fill="#c0c0c0"/>
<rect x="617" y="436" width="3" height="6" fill="#c0c0c0"/>
<rect x="621" y="436" width="3" height="6" fill="#c0c0c0"/>
<rect x="625" y="436" width="3" height="6" fill="#c0c0c0"/>
<rect x="629" y="437" width="3" height="5" fill="#c0c0c0"/>
<rect x="633" y="437" width="3" height="5" fill="#c0c0c0"/>
<rect x="637" y="438" width="3" height="4" fill="#c0c0c0"/>
<rect x="641" y="439" width="3" height="3" fill="#c0c0c0"/>
<rect x="645" y="440" width="3" height="2" fill="#c0c0c0"/>
<rect x="649" y="441" width="3" height="1" fill="#c0c0c0"/>
<rect x="653" y="442" width="3" height="2" fill="#c0c0c0"/>
<rect x="657" y="442" width="3" height="2" fill="#c0c0c0"/>
<rect x="661" y="442" width="3" height="3" fill="#c0c0c0"/>
<rect x="665" y="442" width="3" height="2" fill="#c0c0c0"/>
<rect x="669" y="441" width="3" height="1" fill="#c0c0c0"/>
<rect x="673" y="440" width="3" height="2" fill="#c0c0c0"/>
<rect x="677" y="442" width="3" height="1" fill="#c0c0c0"/>
<rect x="681" y="442" width="3" height="2" fill="#c0c0c0"/>
<rect x="685" y="442" width="3" height="3" fill="#c0c0c0"/>
<rect x="689" y="442" width="3" height="4" fill="#c0c0c0"/>
<rect x="693" y="442" width="3" height="4" fill="#c0c0c0"/>
<rect x="697" y="442" width="3" height="4" fill="#c0c0c0"/>
<rect x="701" y="442" width="3" height="2" fill="#c0c0c0"/>
<rect x="705" y="441" width="3" height="1" fill="#c0c0c0"/>
<rect x="709" y="440" width="3" height="2" fill="#c0c0c0"/>
<rect x="713" y="438" width="3" height="4" fill="#c0c0c0"/>
<rect x="717" y="435" width="3" height="7" fill="#c0c0c0"/>
<rect x="721" y="433" width="3" height="9" fill="#c0c0c0"/>
<rect x="725" y="430" width="3" height="12" fill="#c0c0c0"/>
<rect x="729" y="428" width="3" height="14" fill="#c0c0c0"/>
<rect x="733" y="425" width="3" height="17" fill="#c0c0c0"/>
<rect x="737" y="426" width="3" height="16" fill="#c0c0c0"/>
<rect x="741" y="427" width="3" height="15" fill="#c0c0c0"/>
<rect x="745" y="428" width="3" height="14" fill="#c0c0c0"/>
<rect x="749" y="429" width="3" height="13" fill="#c0c0c0"/>
<rect x="753" y="430" width="3" height="12" fill="#c0c0c0"/>
<rect x="757" y="432" width="3" height="10" fill="#c0c0c0"/>
<rect x="761" y="433" width="3" height="9" fill="#c0c0c0"/>
<rect x="765" y="434" width="3" height="8" fill="#c0c0c0"/>
<rect x="769" y="435" width="3" height="7" fill="#c0c0c0"/>
<rect x="773" y="435" width="3" height="7" fill="#c0c0c0"/>
<rect x="777" y="436" width="3" height="6" fill="#c0c0c0"/>
<rect x="781" y="439" width="3" height="3" fill="#c0c0c0"/>
<rect x="785" y="442" width="3" height="1" fill="#c0c0c0"/>
<rect x="789" y="442" width="3" height="2" fill="#c0c0c0"/>
<rect x="793" y="442" width="3" height="3" fill="#c0c0c0"/>
<rect x="797" y="442" width="3" height="3" fill="#c0c0c0"/>
<rect x="801" y="442" width="3" height="3" fill="#c0c0c0"/>
<rect x="805" y="442" width="3" height="1" fill="#c0c0c0"/>
<rect x="809" y="441" width="3" height="1" fill="#c0c0c0"/>
<rect x="813" y="440" width="3" height="2" fill="#c0c0c0"/>
<rect x="817" y="439" width="3" height="3" fill="#c0c0c0"/>
<rect x="821" y="439" width="3" height="3" fill="#c0c0c0"/>
<rect x="825" y="439" width="3" height="3" fill="#c0c0c0"/>
<rect x="829" y="438" width="3" height="4" fill="#c0c0c0"/>
<rect x="833" y="435" width="3" height="7" fill="#c0c0c0"/>
<rect x="837" y="433" width="3" height="9" fill="#c0c0c0"/>
<rect x="841" y="431" width="3" height="11" fill="#c0c0c0"/>
<rect x="845" y="429" width="3" height="13" fill="#c0c0c0"/>
<rect x="849" y="426" width="3" height="16" fill="#c0c0c0"/>
<rect x="853" y="424" width="3" height="18" fill="#c0c0c0"/>
<rect x="857" y="422" width="3" height="20" fill="#c0c0c0"/>
<rect x="861" y="419" width="3" height="23" fill="#c0c0c0"/>
<rect x="865" y="418" width="3" height="24" fill="#c0c0c0"/>
<rect x="869" y="416" width="3" height="26" fill="#c0c0c0"/>
<rect x="873" y="414" width="3" height="28" fill="#c0c0c0"/>
<rect x="877" y="411" width="3" height="31" fill="#c0c0c0"/>
<rect x="881" y="408" width="3" height="34" fill="#c0c0c0"/>
<rect x="885" y="406" width="3" height="36" fill="#c0c0c0"/>
<rect x="889" y="404" width="3" height="38" fill="#c0c0c0"/>
<rect x="893" y="402" width="3" height="40" fill="#c0c0c0"/>
<rect x="897" y="400" width="3" height="42" fill="#c0c0c0"/>
<rect x="901" y="401" width="3" height="41" fill="#c0c0c0"/>
<rect x="905" y="399" width="3" height="43" fill="#c0c0c0"/>
<rect x="909" y="396" width="3" height="46" fill="#c0c0c0"/>
<path d="M909 403h2v1h-2zM907 404h2v1h-2zM905 405h2v1h-2zM903 406h2v1h-2zM901 407h2v1h-2zM899 408h2v1h-2zM897 409h2v1h-2zM895 410h2v1h-2zM893 411h2v1h-2zM891 412h2v1h-2zM889 413h2v1h-2zM887 414h2v1h-2zM886 415h1v1h-1zM884 416h2v1h-2zM883 417h1v1h-1zM881 418h2v1h-2zM879 419h2v1h-2zM877 420h2v1h-2zM875 421h2v1h-2zM873 422h2v1h-2zM871 423h2v1h-2zM869 424h2v1h-2zM867 425h2v1h-2zM866 426h1v1h-1zM864 427h2v1h-2zM756 428h5v1h-5zM863 428h1v1h-1zM748 429h8v1h-8zM761 429h7v1h-7zM861 429h2v1h-2zM744 430h4v1h-4zM768 430h2v1h-2zM859 430h2v1h-2zM144 431h41v1h-41zM360 431h9v1h-9zM741 431h3v1h-3zM770 431h3v1h-3zM857 431h2v1h-2zM140 432h4v1h-4zM185 432h12v1h-12zM356 432h4v1h-4zM369 432h8v1h-8zM739 432h2v1h-2zM773 432h4v1h-4zM855 432h2v1h-2zM132 433h8v1h-8zM197 433h4v1h-4zM353 433h3v1h-3zM377 433h3v1h-3zM737 433h2v1h-2zM777 433h4v1h-4zM852 433h3v1h-3zM128 434h4v1h-4zM201 434h4v1h-4zM351 434h2v1h-2zM380 434h2v1h-2zM735 434h2v1h-2zM781 434h4v1h-4zM849 434h3v1h-3zM124 435h4v1h-4zM205 435h8v1h-8zM348 435h3v1h-3zM382 435h3v1h-3zM604 435h9v1h-9zM733 435h2v1h-2zM785 435h3v1h-3zM847 435h2v1h-2zM121 436h3v1h-3zM213 436h4v1h-4zM345 436h3v1h-3zM385 436h3v1h-3zM600 436h4v1h-4zM613 436h24v1h-24zM731 436h2v1h-2zM788 436h2v1h-2zM844 436h3v1h-3zM119 437h2v1h-2zM217 437h4v1h-4zM343 437h2v1h-2zM388 437h2v1h-2zM596 437h4v1h-4zM637 437h12v1h-12zM729 437h2v1h-2zM790 437h3v1h-3zM840 437h4v1h-4zM116 438h3v1h-3zM221 438h4v1h-4zM341 438h2v1h-2zM390 438h2v1h-2zM592 438h4v1h-4zM649 438h4v1h-4zM727 438h2v1h-2zM793 438h4v1h-4zM836 438h4v1h-4zM20 439h9v1h-9zM112 439h4v1h-4zM225 439h4v1h-4zM339 439h2v1h-2zM392 439h2v1h-2zM588 439h4v1h-4zM653 439h8v1h-8zM725 439h2v1h-2zM797 439h4v1h-4zM832 439h4v1h-4zM12 440h8v1h-8zM29 440h16v1h-16zM104 440h8v1h-8zM229 440h4v1h-4zM337 440h2v1h-2zM394 440h3v1h-3zM585 440h3v1h-3zM661 440h4v1h-4zM723 440h2v1h-2zM801 440h4v1h-4zM828 440h4v1h-4zM8 441h4v1h-4zM45 441h12v1h-12zM96 441h8v1h-8zM233 441h4v1h-4zM335 441h2v1h-2zM397 441h4v1h-4zM583 441h2v1h-2zM665 441h4v1h-4zM720 441h3v1h-3zM805 441h4v1h-4zM824 441h4v1h-4zM5 442h3v1h-3zM57 442h12v1h-12zM84 442h12v1h-12zM237 442h3v1h-3zM334 442h1v1h-1zM401 442h8v1h-8zM580 442h3v1h-3zM669 442h16v1h-16zM716 442h4v1h-4zM809 442h15v1h-15zM3 443h2v1h-2zM69 443h15v1h-15zM240 443h2v1h-2zM332 443h2v1h-2zM409 443h44v1h-44zM577 443h3v1h-3zM685 443h31v1h-31zM2 444h1v1h-1zM242 444h3v1h-3zM331 444h1v1h-1zM453 444h12v1h-12zM575 444h2v1h-2zM245 445h4v1h-4zM329 445h2v1h-2zM465 445h8v1h-8zM528 445h13v1h-13zM572 445h3v1h-3zM249 446h4v1h-4zM327 446h2v1h-2zM473 446h4v1h-4zM520 446h8v1h-8zM541 446h8v1h-8zM568 446h4v1h-4zM253 447h4v1h-4zM325 447h2v1h-2zM477 447h4v1h-4zM516 447h4v1h-4zM549 447h19v1h-19zM257 448h4v1h-4zM323 448h2v1h-2zM481 448h4v1h-4zM512 448h4v1h-4zM261 449h4v1h-4zM320 449h3v1h-3zM485 449h8v1h-8zM504 449h8v1h-8zM265 450h4v1h-4zM317 450h3v1h-3zM493 450h11v1h-11zM269 451h8v1h-8zM315 451h2v1h-2zM277 452h4v1h-4zM312 452h3v1h-3zM281 453h8v1h-8zM304 453h8v1h-8zM289 454h15v1h-15z" fill="#ff0000"/>
<path d="M892 473h7v1h-7zM880 474h5v1h-5zM888 474h4v1h-4zM899 474h1v2h-1zM877 475h3v1h-3zM885 475h3v1h-3zM908 475h3v1h-3zM875 476h2v1h-2zM900 476h1v2h-1zM906 476h2v1h-2zM873 477h2v1h-2zM905 477h1v1h-1zM871 478h2v1h-2zM901 478h1v2h-1zM904 478h1v1h-1zM850 479h1v1h-1zM860 479h5v1h-5zM868 479h3v1h-3zM903 479h1v1h-1zM849 480h1v1h-1zM851 480h1v1h-1zM858 480h2v1h-2zM865 480h3v1h-3zM902 480h1v1h-1zM848 481h1v1h-1zM852 481h1v1h-1zM856 481h2v1h-2zM732 482h3v1h-3zM847 482h1v1h-1zM853 482h1v1h-1zM855 482h1v1h-1zM118 483h5v1h-5zM352 483h3v1h-3zM728 483h4v1h-4zM735 483h1v2h-1zM844 483h3v1h-3zM854 483h1v1h-1zM116 484h2v1h-2zM123 484h1v1h-1zM158 484h2v1h-2zM322 484h2v1h-2zM344 484h8v1h-8zM354 484h1v1h-1zM725 484h3v1h-3zM834 484h10v1h-10zM115 485h1v1h-1zM124 485h1v2h-1zM157 485h1v1h-1zM160 485h2v1h-2zM321 485h1v1h-1zM324 485h2v1h-2zM341 485h3v1h-3zM355 485h1v4h-1zM570 485h9v1h-9zM723 485h2v1h-2zM736 485h1v1h-1zM833 485h1v2h-1zM114 486h1v1h-1zM156 486h1v1h-1zM162 486h1v1h-1zM320 486h1v1h-1zM326 486h1v1h-1zM339 486h2v1h-2zM569 486h1v1h-1zM579 486h1v1h-1zM718 486h5v1h-5zM737 486h1v2h-1zM113 487h1v2h-1zM125 487h1v1h-1zM155 487h1v1h-1zM163 487h1v1h-1zM319 487h1v1h-1zM327 487h1v1h-1zM336 487h3v1h-3zM510 487h1v1h-1zM568 487h1v1h-1zM580 487h1v1h-1zM716 487h2v1h-2zM832 487h1v2h-1zM85 488h2v1h-2zM126 488h1v1h-1zM154 488h1v1h-1zM164 488h1v1h-1zM318 488h1v1h-1zM328 488h1v1h-1zM333 488h3v1h-3zM509 488h1v2h-1zM511 488h1v1h-1zM567 488h1v1h-1zM581 488h1v1h-1zM715 488h1v1h-1zM738 488h1v1h-1zM83 489h2v1h-2zM87 489h1v2h-1zM102 489h1v1h-1zM112 489h1v1h-1zM127 489h1v1h-1zM152 489h2v1h-2zM165 489h1v1h-1zM316 489h2v1h-2zM329 489h1v1h-1zM331 489h2v1h-2zM356 489h1v3h-1zM512 489h1v1h-1zM566 489h1v1h-1zM582 489h1v1h-1zM705 489h3v1h-3zM713 489h2v1h-2zM739 489h1v1h-1zM809 489h4v1h-4zM831 489h1v2h-1zM82 490h1v1h-1zM100 490h2v1h-2zM103 490h2v1h-2zM111 490h1v2h-1zM128 490h1v1h-1zM133 490h3v1h-3zM151 490h1v1h-1zM166 490h5v1h-5zM202 490h1v1h-1zM315 490h1v1h-1zM330 490h1v1h-1zM508 490h1v2h-1zM513 490h1v1h-1zM565 490h1v1h-1zM583 490h1v2h-1zM703 490h2v1h-2zM708 490h2v1h-2zM711 490h2v1h-2zM740 490h1v1h-1zM807 490h2v1h-2zM813 490h6v1h-6zM16 491h5v1h-5zM81 491h1v1h-1zM88 491h1v1h-1zM99 491h1v1h-1zM105 491h1v1h-1zM129 491h1v1h-1zM131 491h2v1h-2zM136 491h2v1h-2zM148 491h3v1h-3zM171 491h1v1h-1zM200 491h2v1h-2zM203 491h1v2h-1zM306 491h3v1h-3zM312 491h3v1h-3zM514 491h1v2h-1zM564 491h1v2h-1zM598 491h3v1h-3zM616 491h5v1h-5zM668 491h7v1h-7zM702 491h1v1h-1zM710 491h1v1h-1zM741 491h1v1h-1zM744 491h11v1h-11zM773 491h2v1h-2zM806 491h1v1h-1zM819 491h2v1h-2zM828 491h3v1h-3zM14 492h2v1h-2zM21 492h4v1h-4zM42 492h1v1h-1zM80 492h1v2h-1zM89 492h1v2h-1zM96 492h3v1h-3zM106 492h5v1h-5zM130 492h1v1h-1zM138 492h10v1h-10zM172 492h1v2h-1zM178 492h10v1h-10zM199 492h1v1h-1zM304 492h2v1h-2zM309 492h3v1h-3zM357 492h1v4h-1zM498 492h1v1h-1zM507 492h1v2h-1zM584 492h1v1h-1zM597 492h1v1h-1zM601 492h4v1h-4zM608 492h8v1h-8zM621 492h8v1h-8zM632 492h3v1h-3zM666 492h2v1h-2zM674 492h1v1h-1zM701 492h1v1h-1zM742 492h2v1h-2zM755 492h2v1h-2zM771 492h2v1h-2zM775 492h2v1h-2zM804 492h2v1h-2zM821 492h1v1h-1zM824 492h4v1h-4zM12 493h2v1h-2zM25 493h2v1h-2zM41 493h1v1h-1zM43 493h1v2h-1zM54 493h3v1h-3zM92 493h4v1h-4zM176 493h2v1h-2zM188 493h2v1h-2zM192 493h7v1h-7zM204 493h1v2h-1zM303 493h1v1h-1zM390 493h3v1h-3zM420 493h3v1h-3zM497 493h1v1h-1zM499 493h1v1h-1zM515 493h1v2h-1zM563 493h1v1h-1zM585 493h1v2h-1zM596 493h1v1h-1zM605 493h3v1h-3zM629 493h3v1h-3zM635 493h1v1h-1zM665 493h1v2h-1zM675 493h1v2h-1zM700 493h1v2h-1zM757 493h1v1h-1zM768 493h3v1h-3zM777 493h1v1h-1zM803 493h1v1h-1zM822 493h2v1h-2zM2 494h1v1h-1zM11 494h1v1h-1zM27 494h1v1h-1zM40 494h1v1h-1zM53 494h1v1h-1zM57 494h8v1h-8zM79 494h1v1h-1zM90 494h2v1h-2zM173 494h1v1h-1zM175 494h1v1h-1zM190 494h2v1h-2zM302 494h1v1h-1zM389 494h1v2h-1zM393 494h2v1h-2zM402 494h1v1h-1zM416 494h4v1h-4zM423 494h1v1h-1zM430 494h6v1h-6zM496 494h1v2h-1zM500 494h1v1h-1zM506 494h1v2h-1zM562 494h1v1h-1zM595 494h1v1h-1zM636 494h1v1h-1zM758 494h3v1h-3zM764 494h4v1h-4zM778 494h1v1h-1zM802 494h1v1h-1zM3 495h2v1h-2zM9 495h2v1h-2zM28 495h1v2h-1zM39 495h1v1h-1zM44 495h1v1h-1zM52 495h1v2h-1zM65 495h3v1h-3zM76 495h3v1h-3zM174 495h1v1h-1zM205 495h1v2h-1zM301 495h1v2h-1zM361 495h4v1h-4zM395 495h2v1h-2zM400 495h2v1h-2zM403 495h2v1h-2zM412 495h4v1h-4zM424 495h1v2h-1zM429 495h1v1h-1zM436 495h2v1h-2zM440 495h3v1h-3zM501 495h1v1h-1zM504 495h2v1h-2zM516 495h1v2h-1zM561 495h1v1h-1zM586 495h3v1h-3zM592 495h3v1h-3zM637 495h1v1h-1zM658 495h1v1h-1zM664 495h1v2h-1zM676 495h1v2h-1zM699 495h1v1h-1zM761 495h3v1h-3zM779 495h1v2h-1zM800 495h2v1h-2zM5 496h1v1h-1zM7 496h2v1h-2zM36 496h3v1h-3zM45 496h1v2h-1zM68 496h2v1h-2zM72 496h4v1h-4zM358 496h3v1h-3zM365 496h2v1h-2zM388 496h1v1h-1zM397 496h1v1h-1zM399 496h1v1h-1zM405 496h1v1h-1zM408 496h4v1h-4zM428 496h1v1h-1zM438 496h2v1h-2zM443 496h2v1h-2zM486 496h2v1h-2zM495 496h1v1h-1zM502 496h2v1h-2zM537 496h4v1h-4zM544 496h3v1h-3zM560 496h1v1h-1zM589 496h3v1h-3zM638 496h2v1h-2zM645 496h4v1h-4zM657 496h1v2h-1zM659 496h1v1h-1zM685 496h3v1h-3zM697 496h2v1h-2zM799 496h1v1h-1zM6 497h1v1h-1zM29 497h1v1h-1zM32 497h4v1h-4zM51 497h1v1h-1zM70 497h2v1h-2zM206 497h7v1h-7zM216 497h9v1h-9zM300 497h1v2h-1zM358 497h1v1h-1zM367 497h2v1h-2zM387 497h1v2h-1zM398 497h1v1h-1zM406 497h2v1h-2zM425 497h1v1h-1zM427 497h1v1h-1zM445 497h1v1h-1zM486 497h1v1h-1zM488 497h2v1h-2zM492 497h3v1h-3zM517 497h1v2h-1zM535 497h2v1h-2zM541 497h3v1h-3zM547 497h1v1h-1zM559 497h1v1h-1zM640 497h2v1h-2zM643 497h2v1h-2zM649 497h2v1h-2zM660 497h1v1h-1zM663 497h1v2h-1zM677 497h1v2h-1zM683 497h2v1h-2zM688 497h2v1h-2zM695 497h2v1h-2zM780 497h1v2h-1zM796 497h3v1h-3zM30 498h2v1h-2zM46 498h5v1h-5zM213 498h3v1h-3zM225 498h2v1h-2zM369 498h1v1h-1zM372 498h5v1h-5zM426 498h1v1h-1zM446 498h3v1h-3zM452 498h8v1h-8zM485 498h1v2h-1zM490 498h2v1h-2zM528 498h7v1h-7zM548 498h1v1h-1zM556 498h3v1h-3zM642 498h1v1h-1zM651 498h1v1h-1zM656 498h1v2h-1zM661 498h1v1h-1zM680 498h3v1h-3zM690 498h5v1h-5zM790 498h6v1h-6zM227 499h1v1h-1zM246 499h6v1h-6zM299 499h1v2h-1zM370 499h2v1h-2zM377 499h4v1h-4zM384 499h3v1h-3zM449 499h3v1h-3zM460 499h2v1h-2zM518 499h2v1h-2zM525 499h3v1h-3zM549 499h1v1h-1zM552 499h4v1h-4zM652 499h1v2h-1zM662 499h1v1h-1zM678 499h2v1h-2zM781 499h1v2h-1zM788 499h2v1h-2zM228 500h1v1h-1zM245 500h1v1h-1zM252 500h2v1h-2zM264 500h3v1h-3zM274 500h2v1h-2zM292 500h4v1h-4zM381 500h3v1h-3zM462 500h5v1h-5zM484 500h1v2h-1zM520 500h2v1h-2zM523 500h2v1h-2zM550 500h2v1h-2zM655 500h1v2h-1zM787 500h1v1h-1zM229 501h1v1h-1zM244 501h1v2h-1zM254 501h1v1h-1zM262 501h2v1h-2zM267 501h1v2h-1zM273 501h1v2h-1zM276 501h2v1h-2zM280 501h12v1h-12zM296 501h3v1h-3zM467 501h2v1h-2zM522 501h1v1h-1zM653 501h1v1h-1zM782 501h5v1h-5zM230 502h3v1h-3zM255 502h1v2h-1zM261 502h1v2h-1zM278 502h2v1h-2zM298 502h1v1h-1zM469 502h1v1h-1zM483 502h1v2h-1zM654 502h1v1h-1zM233 503h3v1h-3zM243 503h1v1h-1zM268 503h1v1h-1zM272 503h1v1h-1zM470 503h6v1h-6zM236 504h2v1h-2zM240 504h3v1h-3zM256 504h1v1h-1zM260 504h1v1h-1zM269 504h1v2h-1zM271 504h1v2h-1zM476 504h2v1h-2zM482 504h1v2h-1zM238 505h2v1h-2zM257 505h1v2h-1zM259 505h1v2h-1zM478 505h4v1h-4zM270 506h1v1h-1zM258 507h1v1h-1z" fill="#1e90ff"/>
<rect x="8" y="35" width="1" height="1" fill="#000"/>
<rect x="7" y="36" width="3" height="1" fill="#000"/>
<rect x="6" y="37" width="5" height="1" fill="#000"/>
<rect x="5" y="38" width="7" height="1" fill="#000"/>
<text x="17.6" y="40" font-size="9.8" fill="#000" textLength="66.5" lengthAdjust="spacingAndGlyphs" stroke="#000" stroke-width="0.2">USDCHF-,Daily</text>
<text x="91.2" y="40" font-size="9.8" fill="#000" textLength="32.5" lengthAdjust="spacingAndGlyphs" stroke="#000" stroke-width="0.2">0.98526</text>
<text x="126.8" y="40" font-size="9.8" fill="#000" textLength="32.8" lengthAdjust="spacingAndGlyphs" stroke="#000" stroke-width="0.2">0.98870</text>
<text x="162.9" y="40" font-size="9.8" fill="#000" textLength="32.7" lengthAdjust="spacingAndGlyphs" stroke="#000" stroke-width="0.2">0.98265</text>
<text x="199" y="40" font-size="9.8" fill="#000" textLength="32.5" lengthAdjust="spacingAndGlyphs" stroke="#000" stroke-width="0.2">0.98800</text>
<g id="panel">
<path d="M5 48H57V72H114V105H5Z" fill="url(#gb)"/>
<path d="M172 48H224V105H116V72H172Z" fill="url(#gb)"/>
<path d="M5.5 48.5H56.5V72.5H113.5V104.5H5.5Z" fill="none" stroke="#0000ac" stroke-width="1"/>
<path d="M172.5 48.5H223.5V104.5H116.5V72.5H172.5Z" fill="none" stroke="#0000ac" stroke-width="1"/>
<rect x="9" y="71" width="44" height="1" fill="#000084"/>
<rect x="9" y="72" width="44" height="1" fill="#7474f8"/>
<rect x="176" y="71" width="44" height="1" fill="#000084"/>
<rect x="176" y="72" width="44" height="1" fill="#7474f8"/>
<rect x="59" y="48" width="111" height="22" fill="#a4a4ac"/>
<rect x="60" y="49" width="109" height="20" fill="#fff"/>
<rect x="80" y="49" width="1" height="20" fill="#a4a4ac"/>
<rect x="148" y="49" width="1" height="20" fill="#a4a4ac"/>
<rect x="61" y="50" width="18" height="6" fill="url(#gs1)"/>
<rect x="61" y="56" width="18" height="12" fill="url(#gs2)"/>
<rect x="150" y="50" width="18" height="6" fill="url(#gs1)"/>
<rect x="150" y="56" width="18" height="12" fill="url(#gs2)"/>
<rect x="67" y="57" width="5" height="1" fill="#6078d8"/>
<rect x="68" y="58" width="3" height="1" fill="#3c50b4"/>
<rect x="69" y="59" width="1" height="1" fill="#2a3a90"/>
<rect x="158" y="57" width="1" height="1" fill="#2a3a90"/>
<rect x="157" y="58" width="3" height="1" fill="#3c50b4"/>
<rect x="156" y="59" width="5" height="1" fill="#6078d8"/>
<text x="120.9" y="62.6" font-size="11.6" fill="#000" textLength="24.57" lengthAdjust="spacingAndGlyphs">2.00</text>
<text x="17.02" y="64" font-size="12.3" fill="#fff" textLength="26.25" lengthAdjust="spacingAndGlyphs">SELL</text>
<text x="184.9" y="64" font-size="12.3" fill="#fff" textLength="23.9" lengthAdjust="spacingAndGlyphs">BUY</text>
<text x="24.6" y="100.2" font-size="12.5" fill="#fff" textLength="24.9" lengthAdjust="spacingAndGlyphs" font-weight="bold">0.98</text>
<text x="134.3" y="100.2" font-size="12.5" fill="#fff" textLength="24.9" lengthAdjust="spacingAndGlyphs" font-weight="bold">0.98</text>
<text x="51.83" y="100.5" font-size="34.4" fill="#fff" textLength="36.9" lengthAdjust="spacingAndGlyphs" stroke="url(#gbu)" stroke-width="0.45">80</text>
<text x="163.2" y="100.5" font-size="34.4" fill="#fff" textLength="37.18" lengthAdjust="spacingAndGlyphs" stroke="url(#gbu)" stroke-width="0.45">82</text>
<text x="91.24" y="84.3" font-size="12.6" fill="#fff" textLength="8.36" lengthAdjust="spacingAndGlyphs" font-weight="bold">0</text>
<text x="202.5" y="84.3" font-size="12.6" fill="#fff" textLength="7.8" lengthAdjust="spacingAndGlyphs" font-weight="bold">4</text>
</g>
<rect x="0" y="550" width="1191" height="1" fill="#e3e3e3"/>
<rect x="0" y="553" width="1191" height="1" fill="#fdfdfd"/>
<rect x="0" y="554" width="1191" height="18" fill="#f0f0f0"/>
<rect x="0" y="552" width="1191" height="1" fill="#000"/>
<rect x="0" y="572" width="1191" height="2" fill="#fbfbfb"/>
<rect x="0" y="574" width="1191" height="2" fill="#ececec"/>
<rect x="0" y="576" width="1191" height="1" fill="#b4b4b4"/>
<rect x="0" y="577" width="1191" height="2" fill="#fcfcfc"/>
<rect x="319" y="552" width="108" height="19" fill="#fff"/>
<rect x="319" y="552" width="1" height="19" fill="#000"/>
<rect x="426" y="552" width="1" height="19" fill="#000"/>
<rect x="319" y="570" width="108" height="1" fill="#000"/>
<text x="13.6" y="567" font-size="12.6" fill="#828282" textLength="77.82" lengthAdjust="spacingAndGlyphs">USDX,Weekly</text>
<text x="113.6" y="567" font-size="12.6" fill="#828282" textLength="85.8" lengthAdjust="spacingAndGlyphs">EURUSD-,Daily</text>
<text x="220.97" y="567" font-size="12.6" fill="#828282" textLength="86.8" lengthAdjust="spacingAndGlyphs">AUDUSD-,Daily</text>
<text x="330.6" y="567" font-size="12.6" fill="#000" textLength="83.82" lengthAdjust="spacingAndGlyphs">USDCHF-,Daily</text>
<text x="437.6" y="567" font-size="12.6" fill="#828282" textLength="86.8" lengthAdjust="spacingAndGlyphs">USDCAD-,Daily</text>
<text x="547.0" y="567" font-size="12.6" fill="#828282" textLength="88.2" lengthAdjust="spacingAndGlyphs">USDCNH-,Daily</text>
<text x="657.29" y="567" font-size="12.6" fill="#828282" textLength="86.48" lengthAdjust="spacingAndGlyphs">XAUUSD-,Daily</text>
<text x="765.6" y="567" font-size="12.6" fill="#828282" textLength="69.7" lengthAdjust="spacingAndGlyphs">UKOil-,Daily</text>
<text x="857.6" y="567" font-size="12.6" fill="#828282" textLength="78.7" lengthAdjust="spacingAndGlyphs">DJ30-,Weekly</text>
<text x="957.5" y="567" font-size="12.6" fill="#828282" textLength="62.1" lengthAdjust="spacingAndGlyphs">UK100-,H1</text>
<text x="1042.6" y="567" font-size="12.6" fill="#828282" textLength="68.8" lengthAdjust="spacingAndGlyphs">USOil-,Daily</text>
<clipPath id="hk"><rect x="1125" y="553" width="33" height="20"/></clipPath>
<text x="1132.5" y="567" font-size="12.6" fill="#828282" textLength="32.5" lengthAdjust="spacingAndGlyphs" clip-path="url(#hk)">HK50</text>
<rect x="103" y="555" width="1" height="14" fill="#5a5a5a"/>
<rect x="211" y="555" width="1" height="14" fill="#5a5a5a"/>
<rect x="535" y="555" width="1" height="14" fill="#5a5a5a"/>
<rect x="647" y="555" width="1" height="14" fill="#5a5a5a"/>
<rect x="755" y="555" width="1" height="14" fill="#5a5a5a"/>
<rect x="847" y="555" width="1" height="14" fill="#5a5a5a"/>
<rect x="947" y="555" width="1" height="14" fill="#5a5a5a"/>
<rect x="1031" y="555" width="1" height="14" fill="#5a5a5a"/>
<rect x="1123" y="555" width="1" height="14" fill="#5a5a5a"/>
<path d="M1167 558V565L1163 561.5Z" fill="#9a9a9a" shape-rendering="geometricPrecision"/>
<path d="M1182.5 558V565L1186.2 561.5Z" fill="#000" shape-rendering="geometricPrecision"/>
</svg>
<svg width="200" height="24" viewBox="0 0 200 24" style="position:absolute;left:0;top:0;opacity:.999;will-change:opacity">
<text x="-2.5" y="16" font-size="9.6" fill="#3c3c3c" textLength="5.4" lengthAdjust="spacingAndGlyphs">5</text>
<text x="13.7" y="16" font-size="9.6" fill="#3c3c3c" textLength="17.4" lengthAdjust="spacingAndGlyphs">M30</text>
<text x="44.8" y="16" font-size="9.6" fill="#3c3c3c" textLength="11.3" lengthAdjust="spacingAndGlyphs">H1</text>
<text x="71.5" y="16" font-size="9.6" fill="#3c3c3c" textLength="12.5" lengthAdjust="spacingAndGlyphs">H4</text>
<text x="100.8" y="16" font-size="9.6" fill="#3c3c3c" textLength="11.2" lengthAdjust="spacingAndGlyphs">D1</text>
<text x="128" y="16" font-size="9.6" fill="#3c3c3c" textLength="14.1" lengthAdjust="spacingAndGlyphs">W1</text>
<text x="154.7" y="16" font-size="9.6" fill="#3c3c3c" textLength="14.4" lengthAdjust="spacingAndGlyphs">MN</text>
</svg>
</body></html>
